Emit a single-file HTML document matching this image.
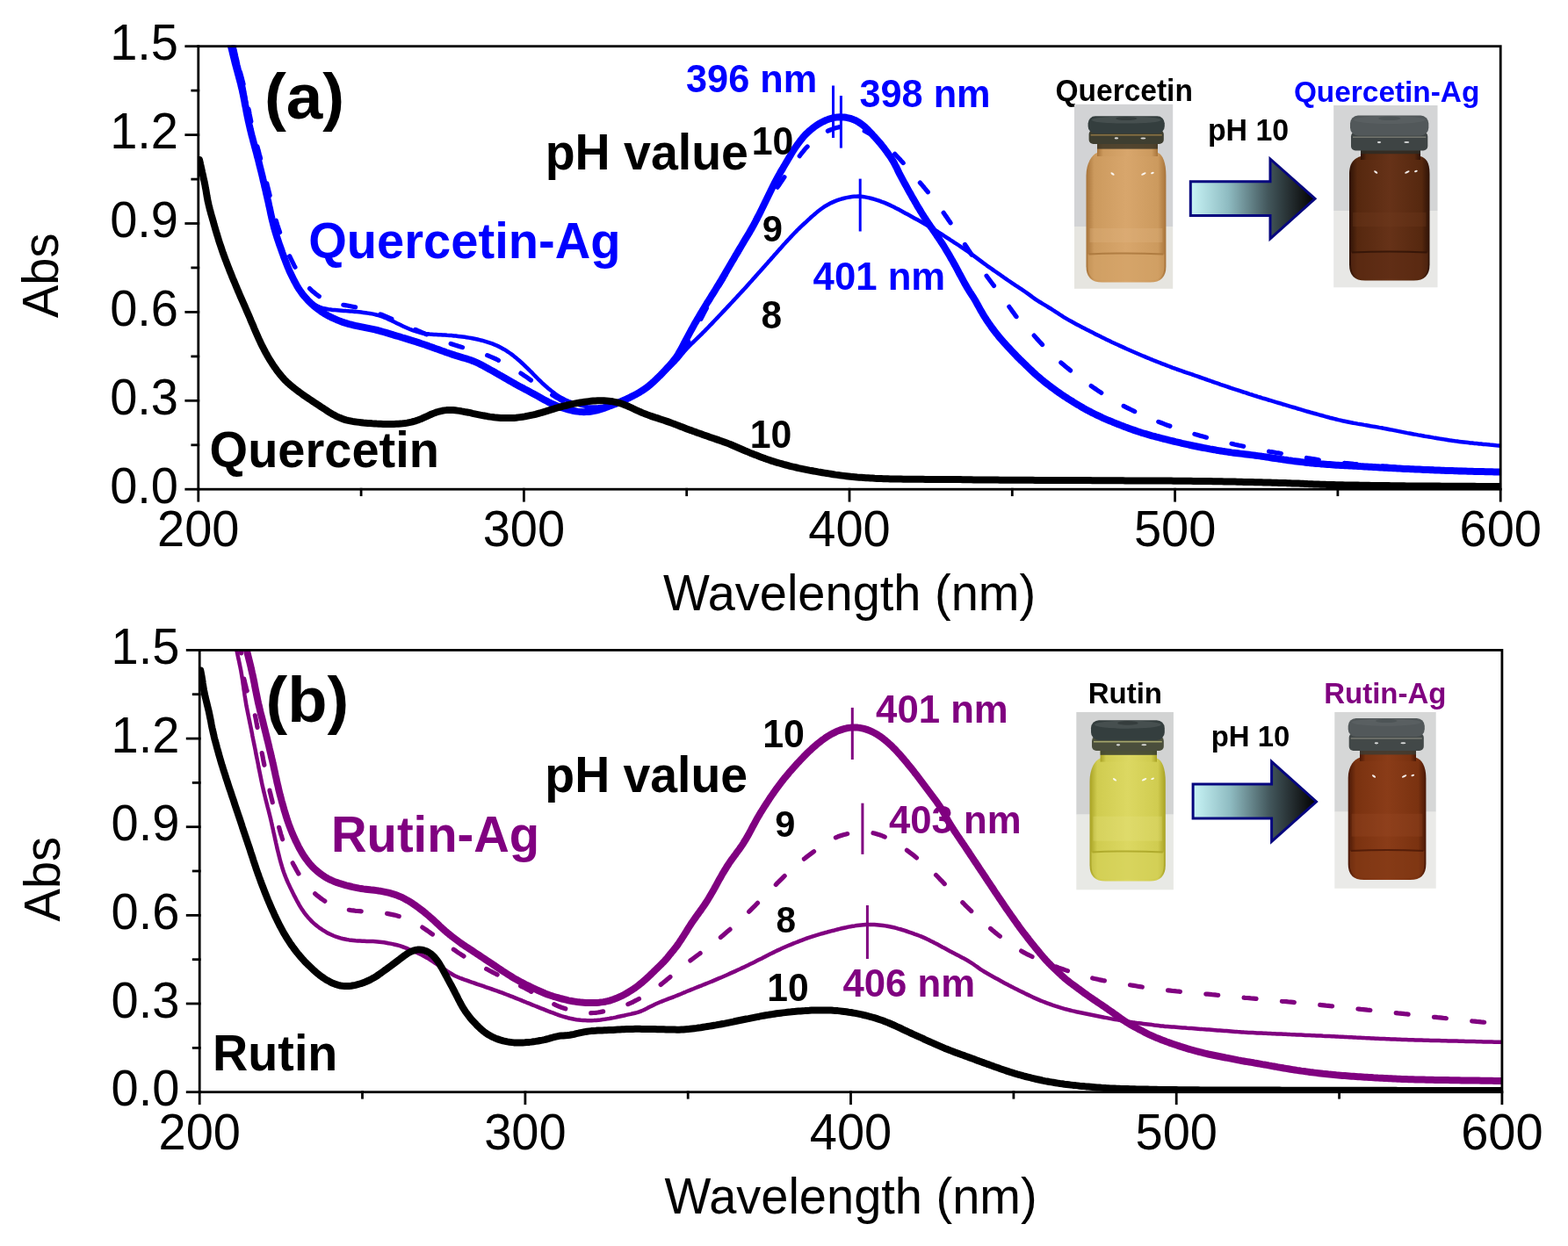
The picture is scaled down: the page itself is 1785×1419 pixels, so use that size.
<!DOCTYPE html>
<html><head><meta charset="utf-8"><title>UV-vis spectra</title>
<style>
html,body{margin:0;padding:0;background:#fff;}
body{width:1785px;height:1419px;overflow:hidden;}
svg{display:block;}
text{font-family:"Liberation Sans",Arial,sans-serif;}
.b{font-weight:bold;}
</style></head><body>
<svg width="1785" height="1419" viewBox="0 0 1785 1419">
<rect width="1785" height="1419" fill="#fff"/>
<defs>
<linearGradient id="arr" x1="0" y1="0" x2="1" y2="0"><stop offset="0" stop-color="#c8f4f6"/><stop offset="0.3" stop-color="#8fbcc2"/><stop offset="0.62" stop-color="#43575c"/><stop offset="0.85" stop-color="#1c2224"/><stop offset="1" stop-color="#000"/></linearGradient>
<linearGradient id="capside" x1="0" y1="0" x2="1" y2="0"><stop offset="0" stop-color="#2a3230"/><stop offset="0.5" stop-color="#1e2624"/><stop offset="1" stop-color="#161c1b"/></linearGradient>
<linearGradient id="capsideL" x1="0" y1="0" x2="1" y2="0"><stop offset="0" stop-color="#3c4242"/><stop offset="0.5" stop-color="#353b3b"/><stop offset="1" stop-color="#2c3232"/></linearGradient>
<linearGradient id="liqQ" x1="0" y1="0" x2="1" y2="0"><stop offset="0" stop-color="#a8743a"/><stop offset="0.1" stop-color="#cc9a5e"/><stop offset="0.5" stop-color="#d8a66c"/><stop offset="0.9" stop-color="#cc9a5e"/><stop offset="1" stop-color="#a8743a"/></linearGradient>
<linearGradient id="liqQA" x1="0" y1="0" x2="1" y2="0"><stop offset="0" stop-color="#2e1206"/><stop offset="0.1" stop-color="#56280f"/><stop offset="0.5" stop-color="#663218"/><stop offset="0.9" stop-color="#56280f"/><stop offset="1" stop-color="#2e1206"/></linearGradient>
<linearGradient id="liqR" x1="0" y1="0" x2="1" y2="0"><stop offset="0" stop-color="#a8a224"/><stop offset="0.1" stop-color="#d0cc50"/><stop offset="0.5" stop-color="#dcd862"/><stop offset="0.9" stop-color="#d0cc50"/><stop offset="1" stop-color="#a8a224"/></linearGradient>
<linearGradient id="liqRA" x1="0" y1="0" x2="1" y2="0"><stop offset="0" stop-color="#4a1806"/><stop offset="0.1" stop-color="#7a3210"/><stop offset="0.5" stop-color="#8a3c18"/><stop offset="0.9" stop-color="#7a3210"/><stop offset="1" stop-color="#4a1806"/></linearGradient>
</defs>
<clipPath id="ca"><rect x="225.8" y="51.7" width="1482.4" height="505.5"/></clipPath>
<g clip-path="url(#ca)" fill="none" stroke-linejoin="round">
<path stroke="#0000ff" stroke-width="4.5" stroke-linecap="round" d="M263.0,40.0 L263.7,42.4 L264.3,44.8 L265.0,47.2 L265.6,49.7 L266.3,52.1 L266.9,54.5 L267.4,56.9 L268.0,59.4 L268.6,61.8 L269.1,64.2 L269.7,66.7 L270.2,69.1 L270.8,71.6 L271.3,74.0 L271.9,76.4 L272.5,78.9 L273.1,81.3 L273.7,83.7 L274.3,86.2 L274.9,88.6 L275.5,91.0 L276.0,93.4 L276.6,95.9 L277.1,98.3 L277.6,100.8 L278.1,103.2 L278.5,105.7 L279.0,108.2 L279.4,110.6 L279.8,113.1 L280.2,115.6 L280.6,118.0 L281.0,120.5 L281.4,123.0 L281.9,125.4 L282.3,127.9 L282.7,130.4 L283.1,132.8 L283.5,135.3 L284.0,137.7 L284.5,140.2 L284.9,142.7 L285.4,145.1 L285.9,147.6 L286.5,150.0 L287.0,152.4 L287.6,154.9 L288.1,157.3 L288.7,159.8 L289.3,162.2 L289.8,164.6 L290.4,167.1 L291.0,169.5 L291.6,171.9 L292.2,174.3 L292.8,176.8 L293.4,179.2 L294.0,181.6 L294.5,184.1 L295.1,186.5 L295.7,188.9 L296.3,191.4 L296.9,193.8 L297.4,196.2 L298.0,198.7 L298.6,201.1 L299.2,203.5 L299.7,206.0 L300.3,208.4 L300.9,210.8 L301.5,213.3 L302.1,215.7 L302.6,218.1 L303.2,220.6 L303.8,223.0 L304.3,225.4 L304.9,227.9 L305.4,230.3 L306.0,232.8 L306.5,235.2 L307.0,237.7 L307.6,240.1 L308.1,242.6 L308.6,245.0 L309.1,247.4 L309.7,249.9 L310.3,252.3 L310.9,254.7 L311.5,257.2 L312.1,259.6 L312.8,262.0 L313.5,264.4 L314.3,266.8 L315.0,269.2 L315.8,271.5 L316.6,273.9 L317.4,276.3 L318.2,278.6 L319.0,281.0 L319.8,283.4 L320.7,285.7 L321.5,288.1 L322.4,290.4 L323.2,292.8 L324.1,295.1 L325.0,297.5 L325.9,299.8 L326.8,302.1 L327.8,304.4 L328.7,306.7 L329.7,309.0 L330.8,311.3 L331.8,313.6 L332.9,315.8 L334.0,318.0 L335.2,320.3 L336.4,322.5 L337.6,324.6 L338.9,326.8 L340.2,328.9 L341.6,330.9 L343.1,332.9 L344.7,334.9 L346.3,336.7 L348.0,338.6 L349.8,340.3 L351.6,342.0 L353.6,343.6 L355.5,345.0 L357.6,346.4 L359.7,347.7 L361.9,348.8 L364.2,349.8 L366.5,350.6 L368.9,351.3 L371.3,351.8 L373.8,352.3 L376.2,352.6 L378.7,352.9 L381.2,353.1 L383.7,353.3 L386.2,353.5 L388.7,353.7 L391.2,353.9 L393.7,354.1 L396.2,354.2 L398.7,354.4 L401.2,354.6 L403.7,354.9 L406.1,355.1 L408.6,355.3 L411.1,355.6 L413.6,355.9 L416.1,356.2 L418.6,356.6 L421.0,357.0 L423.5,357.4 L425.9,357.9 L428.3,358.5 L430.8,359.2 L433.1,359.9 L435.5,360.7 L437.8,361.6 L440.1,362.5 L442.4,363.6 L444.7,364.6 L446.9,365.7 L449.2,366.8 L451.4,367.9 L453.7,369.0 L455.9,370.1 L458.2,371.2 L460.4,372.2 L462.7,373.2 L465.0,374.2 L467.3,375.2 L469.7,376.1 L472.0,376.9 L474.4,377.7 L476.8,378.4 L479.2,379.0 L481.6,379.5 L484.1,380.0 L486.5,380.3 L489.0,380.6 L491.5,380.8 L494.0,381.0 L496.5,381.1 L499.0,381.2 L501.5,381.3 L504.0,381.5 L506.5,381.6 L509.0,381.8 L511.5,381.9 L514.0,382.1 L516.5,382.4 L518.9,382.6 L521.4,382.9 L523.9,383.2 L526.4,383.5 L528.9,383.8 L531.3,384.2 L533.8,384.6 L536.3,385.0 L538.7,385.5 L541.2,386.0 L543.6,386.5 L546.0,387.1 L548.5,387.7 L550.9,388.4 L553.3,389.1 L555.7,389.8 L558.0,390.6 L560.4,391.4 L562.7,392.4 L565.0,393.3 L567.3,394.4 L569.5,395.5 L571.7,396.7 L573.9,397.9 L576.0,399.2 L578.1,400.6 L580.2,402.0 L582.2,403.4 L584.2,404.9 L586.1,406.5 L588.1,408.1 L590.0,409.7 L591.8,411.3 L593.7,413.0 L595.5,414.7 L597.3,416.4 L599.1,418.2 L600.9,419.9 L602.7,421.7 L604.5,423.4 L606.3,425.2 L608.0,427.0 L609.8,428.8 L611.5,430.5 L613.3,432.3 L615.1,434.0 L616.9,435.8 L618.7,437.5 L620.6,439.2 L622.4,440.8 L624.3,442.5 L626.3,444.1 L628.2,445.6 L630.2,447.1 L632.2,448.6 L634.3,450.0 L636.4,451.4 L638.5,452.6 L640.7,453.8 L642.9,455.0 L645.2,456.0 L647.5,457.0 L649.8,457.9 L652.1,458.8 L654.5,459.6 L656.9,460.4 L659.2,461.1 L661.6,461.8 L664.1,462.4 L666.5,462.9 L669.0,463.3 L671.4,463.5 L673.9,463.6 L676.4,463.6 L678.9,463.5 L681.4,463.3 L683.8,463.0 L686.3,462.6 L688.7,462.1 L691.2,461.6 L693.6,460.9 L696.0,460.3 L698.4,459.6 L700.8,458.8 L703.1,458.0 L705.5,457.1 L707.8,456.2 L710.1,455.3 L712.4,454.3 L714.7,453.3 L717.0,452.2 L719.2,451.2 L721.5,450.0 L723.7,448.9 L725.9,447.7 L728.0,446.5 L730.2,445.2 L732.3,443.9 L734.4,442.5 L736.4,441.0 L738.4,439.5 L740.4,438.0 L742.3,436.4 L744.2,434.7 L746.1,433.1 L747.9,431.4 L749.8,429.8 L751.7,428.1 L753.5,426.4 L755.4,424.8 L757.3,423.1 L759.1,421.5 L761.0,419.8 L762.8,418.1 L764.6,416.4 L766.4,414.6 L768.2,412.9 L769.9,411.0 L771.6,409.2 L773.2,407.3 L774.8,405.3 L776.4,403.4 L777.9,401.5 L779.6,399.6 L781.2,397.7 L782.9,395.9 L784.6,394.1 L786.4,392.3 L788.2,390.6 L790.0,388.8 L791.8,387.1 L793.6,385.4 L795.4,383.6 L797.2,381.9 L799.0,380.1 L800.7,378.3 L802.5,376.6 L804.2,374.8 L806.0,373.0 L807.7,371.2 L809.5,369.4 L811.2,367.6 L812.9,365.8 L814.6,364.0 L816.4,362.2 L818.1,360.3 L819.8,358.5 L821.5,356.7 L823.2,354.9 L824.9,353.1 L826.7,351.2 L828.4,349.4 L830.1,347.6 L831.8,345.8 L833.5,344.0 L835.2,342.1 L836.9,340.3 L838.6,338.5 L840.3,336.6 L842.0,334.8 L843.7,332.9 L845.4,331.1 L847.1,329.3 L848.8,327.4 L850.5,325.5 L852.1,323.7 L853.8,321.8 L855.5,320.0 L857.1,318.1 L858.8,316.2 L860.5,314.4 L862.1,312.5 L863.8,310.6 L865.5,308.8 L867.1,306.9 L868.8,305.0 L870.4,303.2 L872.1,301.3 L873.8,299.4 L875.4,297.5 L877.1,295.7 L878.7,293.8 L880.4,291.9 L882.0,290.0 L883.7,288.2 L885.4,286.3 L887.0,284.4 L888.7,282.6 L890.3,280.7 L892.0,278.8 L893.7,277.0 L895.4,275.1 L897.1,273.3 L898.8,271.5 L900.5,269.6 L902.2,267.8 L903.9,266.0 L905.7,264.2 L907.4,262.4 L909.2,260.7 L911.0,258.9 L912.8,257.2 L914.6,255.5 L916.5,253.8 L918.3,252.1 L920.1,250.4 L922.0,248.7 L923.8,247.0 L925.7,245.4 L927.6,243.7 L929.5,242.1 L931.4,240.5 L933.4,239.0 L935.4,237.5 L937.4,236.1 L939.5,234.7 L941.7,233.5 L943.9,232.3 L946.1,231.1 L948.3,230.1 L950.6,229.1 L953.0,228.2 L955.3,227.4 L957.7,226.7 L960.1,226.0 L962.5,225.4 L965.0,224.9 L967.4,224.4 L969.9,224.1 L972.4,223.8 L974.8,223.7 L977.3,223.6 L979.8,223.8 L982.2,224.0 L984.7,224.4 L987.1,224.9 L989.6,225.4 L992.0,226.0 L994.4,226.7 L996.8,227.4 L999.2,228.1 L1001.6,228.9 L1003.9,229.8 L1006.3,230.6 L1008.6,231.6 L1010.9,232.6 L1013.1,233.6 L1015.4,234.7 L1017.6,235.8 L1019.8,237.0 L1022.1,238.1 L1024.3,239.3 L1026.5,240.5 L1028.7,241.7 L1030.9,242.9 L1033.1,244.1 L1035.3,245.3 L1037.4,246.5 L1039.6,247.7 L1041.8,248.9 L1044.0,250.1 L1046.2,251.3 L1048.4,252.5 L1050.6,253.8 L1052.7,255.0 L1054.9,256.2 L1057.1,257.5 L1059.2,258.8 L1061.3,260.1 L1063.5,261.4 L1065.6,262.7 L1067.7,264.0 L1069.8,265.4 L1071.9,266.7 L1074.0,268.1 L1076.1,269.5 L1078.2,270.8 L1080.3,272.2 L1082.4,273.6 L1084.5,274.9 L1086.6,276.3 L1088.7,277.6 L1090.8,279.0 L1092.9,280.4 L1095.0,281.8 L1097.0,283.2 L1099.1,284.6 L1101.1,286.0 L1103.2,287.5 L1105.2,288.9 L1107.2,290.4 L1109.3,291.9 L1111.3,293.4 L1113.3,294.9 L1115.3,296.4 L1117.3,297.9 L1119.3,299.4 L1121.3,300.8 L1123.3,302.3 L1125.4,303.8 L1127.4,305.2 L1129.5,306.6 L1131.5,308.1 L1133.6,309.5 L1135.6,310.9 L1137.7,312.3 L1139.7,313.8 L1141.8,315.2 L1143.8,316.7 L1145.9,318.1 L1147.9,319.5 L1150.0,320.9 L1152.1,322.3 L1154.1,323.7 L1156.2,325.1 L1158.3,326.4 L1160.4,327.8 L1162.5,329.2 L1164.6,330.6 L1166.6,332.0 L1168.6,333.4 L1170.7,334.9 L1172.7,336.4 L1174.7,337.9 L1176.7,339.3 L1178.8,340.8 L1180.8,342.2 L1182.9,343.5 L1185.1,344.8 L1187.2,346.1 L1189.4,347.4 L1191.5,348.7 L1193.6,350.0 L1195.8,351.3 L1197.9,352.6 L1200.0,354.0 L1202.1,355.3 L1204.2,356.7 L1206.3,358.1 L1208.4,359.4 L1210.5,360.8 L1212.6,362.1 L1214.8,363.4 L1216.9,364.6 L1219.1,365.8 L1221.3,367.0 L1223.5,368.2 L1225.7,369.4 L1227.9,370.6 L1230.1,371.7 L1232.4,372.9 L1234.6,374.0 L1236.8,375.2 L1239.0,376.3 L1241.3,377.5 L1243.5,378.6 L1245.7,379.7 L1247.9,380.9 L1250.2,382.0 L1252.4,383.1 L1254.6,384.2 L1256.9,385.3 L1259.1,386.4 L1261.4,387.5 L1263.6,388.6 L1265.9,389.7 L1268.2,390.7 L1270.4,391.8 L1272.7,392.8 L1275.0,393.9 L1277.3,394.9 L1279.5,395.9 L1281.8,397.0 L1284.1,398.0 L1286.4,399.0 L1288.7,400.0 L1291.0,401.0 L1293.3,402.0 L1295.6,403.0 L1297.9,404.0 L1300.2,405.0 L1302.5,405.9 L1304.8,406.9 L1307.1,407.8 L1309.4,408.8 L1311.7,409.7 L1314.0,410.7 L1316.4,411.6 L1318.7,412.5 L1321.0,413.4 L1323.3,414.3 L1325.7,415.2 L1328.0,416.1 L1330.4,417.0 L1332.7,417.9 L1335.0,418.8 L1337.4,419.6 L1339.7,420.5 L1342.1,421.3 L1344.5,422.1 L1346.8,423.0 L1349.2,423.8 L1351.5,424.6 L1353.9,425.4 L1356.3,426.2 L1358.6,427.0 L1361.0,427.9 L1363.4,428.7 L1365.7,429.5 L1368.1,430.3 L1370.4,431.2 L1372.8,432.0 L1375.2,432.8 L1377.5,433.6 L1379.9,434.5 L1382.2,435.3 L1384.6,436.1 L1387.0,436.9 L1389.3,437.8 L1391.7,438.6 L1394.1,439.4 L1396.4,440.2 L1398.8,441.0 L1401.2,441.8 L1403.5,442.6 L1405.9,443.4 L1408.3,444.1 L1410.7,444.9 L1413.0,445.7 L1415.4,446.5 L1417.8,447.2 L1420.2,448.0 L1422.6,448.8 L1425.0,449.5 L1427.3,450.3 L1429.7,451.0 L1432.1,451.8 L1434.5,452.5 L1436.9,453.3 L1439.3,454.0 L1441.7,454.7 L1444.1,455.5 L1446.5,456.2 L1448.9,456.9 L1451.3,457.6 L1453.7,458.3 L1456.0,459.0 L1458.4,459.7 L1460.8,460.5 L1463.2,461.2 L1465.6,461.9 L1468.0,462.6 L1470.4,463.3 L1472.8,464.0 L1475.2,464.7 L1477.6,465.5 L1480.0,466.2 L1482.4,466.9 L1484.8,467.6 L1487.2,468.3 L1489.6,469.0 L1492.0,469.7 L1494.4,470.3 L1496.8,471.0 L1499.3,471.7 L1501.7,472.4 L1504.1,473.0 L1506.5,473.7 L1508.9,474.4 L1511.3,475.0 L1513.7,475.7 L1516.1,476.3 L1518.6,476.9 L1521.0,477.5 L1523.4,478.1 L1525.9,478.6 L1528.3,479.2 L1530.8,479.7 L1533.2,480.2 L1535.6,480.7 L1538.1,481.2 L1540.6,481.7 L1543.0,482.1 L1545.5,482.6 L1547.9,483.0 L1550.4,483.4 L1552.9,483.9 L1555.3,484.3 L1557.8,484.7 L1560.3,485.2 L1562.7,485.6 L1565.2,486.0 L1567.7,486.4 L1570.1,486.9 L1572.6,487.3 L1575.0,487.8 L1577.5,488.2 L1580.0,488.7 L1582.4,489.2 L1584.9,489.6 L1587.3,490.1 L1589.8,490.6 L1592.2,491.1 L1594.7,491.6 L1597.1,492.1 L1599.6,492.6 L1602.0,493.1 L1604.5,493.5 L1606.9,494.0 L1609.4,494.5 L1611.9,494.9 L1614.3,495.4 L1616.8,495.8 L1619.3,496.2 L1621.7,496.7 L1624.2,497.1 L1626.6,497.5 L1629.1,497.9 L1631.6,498.4 L1634.0,498.8 L1636.5,499.2 L1639.0,499.6 L1641.4,500.0 L1643.9,500.4 L1646.4,500.8 L1648.9,501.2 L1651.3,501.6 L1653.8,501.9 L1656.3,502.3 L1658.8,502.6 L1661.2,502.9 L1663.7,503.2 L1666.2,503.5 L1668.7,503.8 L1671.2,504.1 L1673.7,504.4 L1676.1,504.6 L1678.6,504.9 L1681.1,505.1 L1683.6,505.4 L1686.1,505.6 L1688.6,505.9 L1691.1,506.1 L1693.6,506.3 L1696.1,506.6 L1698.6,506.8 L1701.0,507.0 L1703.5,507.3 L1706.0,507.5 L1708.5,507.8 L1711.0,508.0"/>
<path stroke="#0000ff" stroke-width="5.2" stroke-dasharray="14 29.5" stroke-linecap="round" d="M262.5,40.0 L263.2,42.4 L263.8,44.8 L264.5,47.2 L265.1,49.7 L265.8,52.1 L266.4,54.5 L267.0,56.9 L267.6,59.4 L268.2,61.8 L268.8,64.2 L269.4,66.6 L270.0,69.1 L270.6,71.5 L271.3,73.9 L271.9,76.4 L272.5,78.8 L273.2,81.2 L273.8,83.6 L274.5,86.0 L275.2,88.4 L275.8,90.8 L276.4,93.3 L277.1,95.7 L277.7,98.1 L278.2,100.6 L278.8,103.0 L279.3,105.4 L279.8,107.9 L280.3,110.3 L280.8,112.8 L281.3,115.3 L281.8,117.7 L282.2,120.2 L282.7,122.6 L283.2,125.1 L283.7,127.5 L284.1,130.0 L284.6,132.5 L285.1,134.9 L285.6,137.4 L286.2,139.8 L286.7,142.2 L287.3,144.7 L287.9,147.1 L288.4,149.6 L289.0,152.0 L289.6,154.4 L290.3,156.8 L290.9,159.3 L291.5,161.7 L292.2,164.1 L292.8,166.5 L293.5,168.9 L294.1,171.3 L294.8,173.8 L295.4,176.2 L296.1,178.6 L296.7,181.0 L297.3,183.4 L298.0,185.9 L298.6,188.3 L299.2,190.7 L299.8,193.1 L300.4,195.6 L301.0,198.0 L301.6,200.4 L302.3,202.9 L302.9,205.3 L303.5,207.7 L304.1,210.1 L304.7,212.6 L305.3,215.0 L305.9,217.4 L306.5,219.9 L307.1,222.3 L307.7,224.7 L308.3,227.2 L308.8,229.6 L309.4,232.0 L310.0,234.5 L310.6,236.9 L311.1,239.3 L311.7,241.8 L312.3,244.2 L313.0,246.6 L313.6,249.0 L314.3,251.4 L315.1,253.8 L315.8,256.2 L316.6,258.6 L317.3,261.0 L318.2,263.3 L319.0,265.7 L319.8,268.0 L320.7,270.4 L321.6,272.7 L322.5,275.1 L323.4,277.4 L324.4,279.7 L325.4,282.0 L326.4,284.3 L327.4,286.6 L328.4,288.9 L329.4,291.2 L330.5,293.4 L331.6,295.7 L332.7,297.9 L333.8,300.2 L334.9,302.4 L336.1,304.6 L337.3,306.8 L338.5,309.0 L339.8,311.1 L341.1,313.3 L342.4,315.4 L343.7,317.5 L345.1,319.6 L346.6,321.6 L348.1,323.6 L349.7,325.5 L351.4,327.4 L353.1,329.2 L354.9,330.9 L356.8,332.5 L358.7,334.1 L360.7,335.7 L362.7,337.1 L364.8,338.5 L366.9,339.7 L369.1,340.9 L371.3,342.0 L373.6,343.0 L376.0,343.8 L378.3,344.6 L380.7,345.3 L383.1,345.8 L385.6,346.3 L388.0,346.8 L390.5,347.2 L393.0,347.6 L395.4,348.0 L397.9,348.5 L400.3,349.0 L402.8,349.5 L405.2,350.0 L407.7,350.5 L410.1,351.1 L412.6,351.7 L415.0,352.3 L417.4,353.0 L419.8,353.6 L422.2,354.3 L424.6,355.0 L427.0,355.8 L429.4,356.6 L431.7,357.4 L434.1,358.3 L436.4,359.2 L438.7,360.1 L441.0,361.1 L443.3,362.1 L445.6,363.1 L447.9,364.1 L450.2,365.1 L452.5,366.2 L454.7,367.2 L457.0,368.3 L459.3,369.3 L461.6,370.4 L463.8,371.4 L466.1,372.4 L468.4,373.5 L470.7,374.5 L473.0,375.5 L475.3,376.5 L477.6,377.4 L479.9,378.4 L482.2,379.3 L484.5,380.3 L486.8,381.2 L489.2,382.2 L491.5,383.1 L493.8,384.0 L496.1,385.0 L498.5,385.9 L500.8,386.8 L503.1,387.7 L505.4,388.6 L507.8,389.5 L510.1,390.4 L512.5,391.2 L514.9,392.0 L517.2,392.8 L519.6,393.5 L522.0,394.3 L524.4,395.0 L526.8,395.7 L529.2,396.4 L531.6,397.1 L534.0,397.8 L536.4,398.5 L538.8,399.3 L541.2,400.0 L543.6,400.8 L546.0,401.5 L548.4,402.3 L550.7,403.1 L553.1,404.0 L555.4,404.9 L557.7,405.9 L560.0,406.8 L562.3,407.8 L564.6,408.9 L566.8,410.0 L569.1,411.1 L571.3,412.2 L573.5,413.4 L575.7,414.6 L577.9,415.8 L580.0,417.1 L582.2,418.4 L584.3,419.7 L586.5,421.0 L588.6,422.3 L590.7,423.7 L592.8,425.0 L594.9,426.4 L596.9,427.8 L599.0,429.2 L601.1,430.6 L603.1,432.1 L605.2,433.5 L607.2,435.0 L609.2,436.4 L611.3,437.9 L613.3,439.3 L615.4,440.8 L617.4,442.2 L619.4,443.7 L621.5,445.1 L623.6,446.5 L625.6,447.9 L627.7,449.2 L629.9,450.6 L632.0,451.9 L634.2,453.1 L636.3,454.4 L638.5,455.7 L640.7,456.9 L642.8,458.1 L645.0,459.3 L647.2,460.5 L649.5,461.6 L651.7,462.7 L654.0,463.7 L656.3,464.5 L658.7,465.3 L661.1,466.0 L663.5,466.5 L666.0,466.8 L668.4,467.0 L670.9,467.1 L673.4,467.0 L675.9,466.8 L678.4,466.5 L680.8,466.1 L683.2,465.6 L685.7,465.0 L688.1,464.3 L690.4,463.6 L692.8,462.8 L695.2,461.9 L697.5,461.0 L699.8,460.1 L702.2,459.2 L704.5,458.3 L706.8,457.4 L709.1,456.4 L711.4,455.3 L713.6,454.3 L715.9,453.2 L718.1,452.1 L720.4,450.9 L722.6,449.8 L724.8,448.6 L727.0,447.4 L729.1,446.1 L731.2,444.8 L733.3,443.4 L735.3,442.0 L737.3,440.5 L739.3,438.9 L741.2,437.3 L743.1,435.6 L744.9,433.9 L746.7,432.2 L748.5,430.5 L750.3,428.7 L752.1,426.9 L753.8,425.1 L755.5,423.3 L757.3,421.5 L759.0,419.7 L760.6,417.8 L762.3,416.0 L764.0,414.1 L765.6,412.2 L767.3,410.3 L768.9,408.4 L770.5,406.5 L772.2,404.6 L773.8,402.7 L775.4,400.8 L777.0,398.9 L778.5,396.9 L780.0,394.9 L781.5,392.9 L782.9,390.8 L784.2,388.7 L785.5,386.6 L786.8,384.4 L788.0,382.2 L789.2,380.0 L790.4,377.8 L791.5,375.6 L792.7,373.4 L793.8,371.2 L795.0,368.9 L796.1,366.7 L797.3,364.5 L798.4,362.3 L799.6,360.0 L800.7,357.8 L801.9,355.6 L803.0,353.4 L804.2,351.2 L805.4,349.0 L806.6,346.7 L807.8,344.6 L809.0,342.4 L810.2,340.2 L811.5,338.0 L812.7,335.9 L814.0,333.7 L815.3,331.6 L816.6,329.4 L817.9,327.3 L819.1,325.1 L820.4,323.0 L821.7,320.8 L823.0,318.6 L824.2,316.5 L825.5,314.3 L826.8,312.2 L828.0,310.0 L829.3,307.9 L830.6,305.7 L831.8,303.5 L833.1,301.4 L834.3,299.2 L835.6,297.0 L836.8,294.8 L838.0,292.7 L839.2,290.5 L840.4,288.3 L841.6,286.1 L842.8,283.9 L843.9,281.6 L845.0,279.4 L846.1,277.1 L847.2,274.9 L848.3,272.6 L849.3,270.3 L850.4,268.1 L851.5,265.8 L852.6,263.6 L853.7,261.3 L854.8,259.1 L856.0,256.9 L857.2,254.7 L858.3,252.5 L859.6,250.3 L860.8,248.1 L862.0,245.9 L863.3,243.8 L864.6,241.6 L865.9,239.5 L867.3,237.4 L868.6,235.3 L870.1,233.3 L871.5,231.2 L873.0,229.2 L874.6,227.3 L876.1,225.3 L877.6,223.3 L879.1,221.3 L880.6,219.3 L882.1,217.3 L883.6,215.3 L885.0,213.2 L886.5,211.2 L887.9,209.1 L889.3,207.0 L890.7,205.0 L892.1,202.9 L893.5,200.8 L894.9,198.8 L896.4,196.7 L897.8,194.7 L899.2,192.6 L900.7,190.6 L902.1,188.5 L903.6,186.5 L905.1,184.5 L906.6,182.5 L908.0,180.5 L909.6,178.5 L911.1,176.5 L912.6,174.5 L914.2,172.6 L915.8,170.6 L917.4,168.7 L919.1,166.9 L920.8,165.0 L922.5,163.3 L924.3,161.5 L926.1,159.8 L928.0,158.2 L930.0,156.6 L932.0,155.1 L934.0,153.7 L936.1,152.4 L938.3,151.2 L940.5,150.1 L942.8,149.0 L945.1,148.0 L947.4,147.1 L949.7,146.2 L952.1,145.5 L954.5,144.9 L957.0,144.4 L959.4,144.1 L961.9,143.9 L964.3,143.9 L966.8,144.0 L969.2,144.4 L971.7,144.9 L974.1,145.5 L976.4,146.2 L978.8,147.1 L981.1,148.0 L983.4,148.9 L985.7,150.0 L987.9,151.1 L990.1,152.3 L992.2,153.6 L994.4,154.9 L996.4,156.3 L998.5,157.7 L1000.5,159.2 L1002.5,160.7 L1004.5,162.2 L1006.4,163.8 L1008.3,165.4 L1010.2,167.1 L1012.1,168.8 L1013.9,170.5 L1015.7,172.2 L1017.4,174.0 L1019.1,175.8 L1020.9,177.7 L1022.6,179.5 L1024.3,181.3 L1026.0,183.2 L1027.7,185.0 L1029.3,186.9 L1031.0,188.7 L1032.7,190.6 L1034.3,192.5 L1035.9,194.4 L1037.6,196.3 L1039.2,198.2 L1040.7,200.1 L1042.3,202.0 L1043.9,204.0 L1045.5,205.9 L1047.1,207.8 L1048.8,209.7 L1050.4,211.6 L1052.0,213.5 L1053.6,215.5 L1055.2,217.4 L1056.8,219.3 L1058.4,221.3 L1059.9,223.2 L1061.5,225.2 L1063.0,227.1 L1064.6,229.1 L1066.1,231.1 L1067.6,233.1 L1069.0,235.2 L1070.5,237.2 L1071.9,239.2 L1073.4,241.3 L1074.8,243.3 L1076.2,245.4 L1077.7,247.4 L1079.1,249.5 L1080.5,251.6 L1081.9,253.6 L1083.3,255.7 L1084.7,257.8 L1086.1,259.9 L1087.5,261.9 L1088.9,264.0 L1090.3,266.1 L1091.7,268.2 L1093.1,270.2 L1094.5,272.3 L1095.9,274.4 L1097.2,276.5 L1098.6,278.6 L1100.0,280.7 L1101.3,282.8 L1102.7,284.9 L1104.1,287.0 L1105.5,289.1 L1106.8,291.2 L1108.2,293.2 L1109.6,295.3 L1111.0,297.4 L1112.4,299.5 L1113.9,301.5 L1115.3,303.6 L1116.8,305.6 L1118.2,307.6 L1119.7,309.7 L1121.2,311.7 L1122.7,313.7 L1124.2,315.7 L1125.7,317.7 L1127.2,319.7 L1128.7,321.7 L1130.2,323.7 L1131.7,325.7 L1133.2,327.7 L1134.7,329.7 L1136.2,331.7 L1137.7,333.7 L1139.1,335.7 L1140.6,337.8 L1142.1,339.8 L1143.5,341.8 L1145.0,343.9 L1146.4,345.9 L1147.9,348.0 L1149.3,350.0 L1150.8,352.0 L1152.2,354.1 L1153.7,356.1 L1155.1,358.1 L1156.6,360.1 L1158.2,362.1 L1159.8,363.9 L1161.5,365.7 L1163.2,367.4 L1164.9,369.1 L1166.7,370.9 L1168.5,372.6 L1170.2,374.4 L1171.9,376.3 L1173.6,378.1 L1175.2,380.0 L1176.9,381.8 L1178.6,383.7 L1180.2,385.6 L1181.9,387.4 L1183.6,389.3 L1185.3,391.1 L1187.0,393.0 L1188.7,394.8 L1190.4,396.6 L1192.2,398.4 L1193.9,400.2 L1195.7,401.9 L1197.5,403.7 L1199.3,405.4 L1201.2,407.1 L1203.0,408.7 L1204.9,410.4 L1206.8,412.1 L1208.7,413.7 L1210.6,415.3 L1212.5,416.9 L1214.4,418.5 L1216.4,420.1 L1218.3,421.7 L1220.3,423.2 L1222.2,424.8 L1224.2,426.3 L1226.2,427.8 L1228.2,429.3 L1230.2,430.8 L1232.2,432.3 L1234.2,433.8 L1236.2,435.3 L1238.3,436.8 L1240.3,438.2 L1242.4,439.7 L1244.4,441.1 L1246.5,442.5 L1248.5,443.9 L1250.6,445.3 L1252.7,446.7 L1254.8,448.1 L1256.9,449.4 L1259.0,450.8 L1261.1,452.1 L1263.3,453.4 L1265.4,454.7 L1267.6,455.9 L1269.7,457.2 L1271.9,458.4 L1274.1,459.6 L1276.3,460.8 L1278.5,462.0 L1280.7,463.2 L1283.0,464.3 L1285.2,465.4 L1287.4,466.5 L1289.7,467.6 L1292.0,468.7 L1294.2,469.8 L1296.5,470.8 L1298.8,471.9 L1301.1,472.9 L1303.3,473.9 L1305.6,474.9 L1307.9,475.9 L1310.2,476.9 L1312.6,477.8 L1314.9,478.8 L1317.2,479.7 L1319.5,480.6 L1321.9,481.5 L1324.2,482.4 L1326.5,483.3 L1328.9,484.2 L1331.2,485.0 L1333.6,485.9 L1336.0,486.7 L1338.3,487.5 L1340.7,488.3 L1343.1,489.1 L1345.4,489.9 L1347.8,490.7 L1350.2,491.4 L1352.6,492.2 L1355.0,492.9 L1357.4,493.6 L1359.8,494.3 L1362.2,495.1 L1364.6,495.7 L1367.0,496.4 L1369.4,497.1 L1371.8,497.7 L1374.2,498.4 L1376.7,499.0 L1379.1,499.7 L1381.5,500.3 L1383.9,500.9 L1386.4,501.5 L1388.8,502.1 L1391.2,502.7 L1393.6,503.3 L1396.1,503.9 L1398.5,504.5 L1400.9,505.1 L1403.4,505.6 L1405.8,506.2 L1408.3,506.7 L1410.7,507.3 L1413.2,507.8 L1415.6,508.3 L1418.1,508.8 L1420.5,509.4 L1423.0,509.9 L1425.4,510.4 L1427.9,510.9 L1430.3,511.4 L1432.8,511.8 L1435.2,512.3 L1437.7,512.8 L1440.1,513.3 L1442.6,513.7 L1445.1,514.2 L1447.5,514.6 L1450.0,515.0 L1452.5,515.5 L1454.9,515.9 L1457.4,516.3 L1459.9,516.7 L1462.3,517.1 L1464.8,517.5 L1467.3,518.0 L1469.7,518.4 L1472.1,518.8 L1474.5,519.2 L1476.9,519.6 L1479.3,520.0 L1481.7,520.5 L1484.1,520.9 L1486.5,521.3 L1488.9,521.7 L1491.4,522.1 L1493.9,522.5 L1496.3,522.9 L1498.8,523.3 L1501.3,523.7 L1503.7,524.1 L1506.2,524.4 L1508.7,524.8 L1511.2,525.2 L1513.7,525.5 L1516.1,525.8 L1518.6,526.1 L1521.1,526.4 L1523.6,526.6 L1526.1,526.9 L1528.6,527.1 L1531.1,527.4 L1533.6,527.6 L1536.1,527.8 L1538.6,528.0 L1541.0,528.3 L1543.5,528.5 L1546.0,528.7 L1548.5,528.9 L1551.0,529.1 L1553.5,529.3 L1556.0,529.5 L1558.5,529.7 L1561.0,529.9 L1563.5,530.1 L1566.0,530.3 L1568.5,530.5 L1571.0,530.7 L1573.5,530.9 L1576.0,531.0 L1578.5,531.2 L1581.0,531.4 L1583.5,531.6 L1586.0,531.7 L1588.5,531.9 L1591.0,532.1 L1593.5,532.2 L1596.0,532.4 L1598.5,532.5 L1601.0,532.7 L1603.5,532.8 L1605.9,533.0 L1608.4,533.1 L1610.9,533.2 L1613.4,533.4 L1615.9,533.5 L1618.4,533.6 L1620.9,533.7 L1623.4,533.9 L1625.9,534.0 L1628.4,534.1 L1630.9,534.2 L1633.5,534.3 L1636.0,534.4 L1638.5,534.5 L1641.0,534.6 L1643.5,534.7 L1646.0,534.8 L1648.5,534.9 L1651.0,535.0 L1653.5,535.1 L1656.0,535.2 L1658.5,535.2 L1661.0,535.3 L1663.5,535.4 L1666.0,535.5 L1668.5,535.6 L1671.0,535.7 L1673.5,535.7 L1676.0,535.8 L1678.5,535.9 L1681.0,536.0 L1683.5,536.0 L1686.0,536.1 L1688.5,536.2 L1691.0,536.2 L1693.5,536.3 L1696.0,536.4 L1698.5,536.5 L1701.0,536.5 L1703.5,536.6 L1706.0,536.7 L1708.5,536.7 L1711.0,536.8"/>
<path stroke="#0000ff" stroke-width="8.0" stroke-linecap="round" d="M259.5,40.0 L260.2,42.4 L260.8,44.8 L261.5,47.2 L262.1,49.6 L262.8,52.1 L263.4,54.5 L264.0,56.9 L264.6,59.3 L265.2,61.8 L265.8,64.2 L266.4,66.6 L267.0,69.0 L267.6,71.5 L268.2,73.9 L268.9,76.3 L269.5,78.7 L270.2,81.1 L270.8,83.6 L271.5,86.0 L272.1,88.4 L272.8,90.8 L273.4,93.2 L274.1,95.6 L274.6,98.1 L275.2,100.5 L275.8,102.9 L276.3,105.4 L276.8,107.8 L277.3,110.3 L277.8,112.7 L278.3,115.2 L278.7,117.6 L279.2,120.1 L279.7,122.5 L280.2,125.0 L280.6,127.5 L281.1,129.9 L281.6,132.4 L282.1,134.8 L282.6,137.3 L283.2,139.7 L283.7,142.1 L284.3,144.6 L284.8,147.0 L285.4,149.4 L286.0,151.9 L286.6,154.3 L287.3,156.7 L287.9,159.1 L288.5,161.6 L289.2,164.0 L289.8,166.4 L290.5,168.8 L291.1,171.2 L291.8,173.6 L292.4,176.0 L293.0,178.5 L293.7,180.9 L294.3,183.3 L294.9,185.7 L295.5,188.2 L296.1,190.6 L296.7,193.0 L297.3,195.4 L297.9,197.9 L298.5,200.3 L299.1,202.7 L299.6,205.2 L300.2,207.6 L300.8,210.0 L301.3,212.5 L301.9,214.9 L302.5,217.3 L303.0,219.8 L303.6,222.2 L304.2,224.7 L304.7,227.1 L305.3,229.5 L305.8,232.0 L306.3,234.4 L306.9,236.9 L307.4,239.3 L307.9,241.8 L308.4,244.2 L309.0,246.6 L309.5,249.1 L310.1,251.5 L310.7,253.9 L311.3,256.4 L311.9,258.8 L312.6,261.2 L313.3,263.6 L314.0,266.0 L314.8,268.4 L315.5,270.8 L316.3,273.1 L317.1,275.5 L317.9,277.9 L318.7,280.2 L319.6,282.6 L320.4,284.9 L321.2,287.3 L322.1,289.7 L322.9,292.0 L323.8,294.3 L324.7,296.7 L325.6,299.0 L326.5,301.3 L327.4,303.7 L328.4,306.0 L329.4,308.3 L330.4,310.5 L331.5,312.8 L332.6,315.1 L333.7,317.3 L334.8,319.5 L336.0,321.7 L337.2,323.9 L338.4,326.1 L339.7,328.2 L341.1,330.3 L342.5,332.3 L344.0,334.4 L345.5,336.3 L347.1,338.2 L348.8,340.1 L350.5,341.9 L352.2,343.7 L354.0,345.5 L355.9,347.1 L357.7,348.8 L359.7,350.3 L361.7,351.9 L363.7,353.3 L365.7,354.8 L367.8,356.2 L369.9,357.5 L372.1,358.7 L374.3,359.9 L376.5,361.1 L378.7,362.2 L381.0,363.2 L383.3,364.2 L385.6,365.1 L387.9,366.0 L390.3,366.9 L392.6,367.7 L395.0,368.4 L397.4,369.1 L399.8,369.7 L402.3,370.3 L404.7,370.9 L407.1,371.4 L409.6,371.9 L412.0,372.4 L414.5,372.9 L416.9,373.4 L419.4,373.9 L421.9,374.4 L424.3,374.9 L426.7,375.4 L429.2,376.0 L431.6,376.6 L434.0,377.3 L436.4,378.0 L438.8,378.7 L441.2,379.4 L443.6,380.1 L446.0,380.8 L448.4,381.6 L450.8,382.3 L453.2,383.0 L455.6,383.7 L458.0,384.5 L460.3,385.2 L462.7,385.9 L465.1,386.6 L467.5,387.4 L469.9,388.1 L472.3,388.8 L474.7,389.6 L477.1,390.4 L479.4,391.2 L481.8,392.0 L484.2,392.8 L486.5,393.6 L488.9,394.5 L491.2,395.3 L493.6,396.1 L495.9,397.0 L498.3,397.8 L500.7,398.6 L503.0,399.5 L505.4,400.3 L507.7,401.2 L510.1,402.0 L512.4,402.8 L514.8,403.6 L517.2,404.4 L519.6,405.2 L522.0,405.9 L524.4,406.6 L526.7,407.3 L529.1,408.0 L531.5,408.7 L533.9,409.5 L536.3,410.3 L538.6,411.2 L540.9,412.2 L543.2,413.2 L545.4,414.2 L547.7,415.4 L549.9,416.5 L552.1,417.7 L554.3,418.9 L556.5,420.2 L558.6,421.4 L560.8,422.6 L563.0,423.8 L565.2,425.1 L567.3,426.3 L569.5,427.6 L571.7,428.8 L573.8,430.0 L576.0,431.3 L578.2,432.5 L580.3,433.8 L582.5,435.0 L584.7,436.2 L586.9,437.5 L589.1,438.7 L591.3,439.9 L593.5,441.1 L595.7,442.2 L597.9,443.4 L600.1,444.6 L602.3,445.8 L604.5,447.0 L606.7,448.2 L608.9,449.3 L611.1,450.6 L613.3,451.8 L615.4,453.0 L617.6,454.2 L619.8,455.4 L622.0,456.6 L624.2,457.8 L626.4,458.9 L628.7,460.0 L631.0,461.0 L633.3,462.0 L635.6,462.8 L638.0,463.7 L640.3,464.5 L642.7,465.2 L645.1,465.9 L647.5,466.6 L649.9,467.2 L652.4,467.8 L654.8,468.2 L657.3,468.6 L659.7,468.9 L662.2,469.1 L664.7,469.2 L667.2,469.1 L669.7,469.0 L672.1,468.7 L674.6,468.3 L677.1,467.9 L679.5,467.4 L681.9,466.7 L684.3,466.0 L686.6,465.2 L689.0,464.4 L691.3,463.5 L693.7,462.6 L696.0,461.7 L698.3,460.8 L700.7,459.9 L703.0,459.0 L705.3,458.0 L707.6,457.0 L709.9,456.0 L712.2,455.0 L714.4,453.9 L716.7,452.8 L718.9,451.7 L721.1,450.6 L723.3,449.4 L725.5,448.2 L727.7,447.0 L729.8,445.7 L731.9,444.3 L734.0,442.9 L736.0,441.5 L738.0,440.0 L739.9,438.4 L741.8,436.8 L743.7,435.1 L745.5,433.4 L747.3,431.7 L749.1,429.9 L750.9,428.2 L752.6,426.4 L754.4,424.6 L756.1,422.8 L757.8,420.9 L759.5,419.1 L761.2,417.3 L762.9,415.4 L764.5,413.5 L766.1,411.6 L767.7,409.7 L769.2,407.7 L770.6,405.6 L771.9,403.6 L773.2,401.4 L774.4,399.3 L775.6,397.1 L776.8,394.9 L778.0,392.6 L779.1,390.4 L780.3,388.2 L781.5,386.0 L782.6,383.8 L783.8,381.6 L785.0,379.4 L786.2,377.2 L787.4,375.0 L788.6,372.8 L789.8,370.6 L791.0,368.4 L792.3,366.3 L793.5,364.1 L794.8,362.0 L796.1,359.8 L797.4,357.6 L798.6,355.5 L799.9,353.4 L801.2,351.2 L802.5,349.1 L803.8,347.0 L805.1,344.8 L806.5,342.7 L807.8,340.6 L809.1,338.5 L810.4,336.3 L811.8,334.2 L813.1,332.1 L814.4,330.0 L815.7,327.8 L817.0,325.7 L818.3,323.6 L819.6,321.4 L820.9,319.3 L822.2,317.1 L823.4,315.0 L824.7,312.8 L826.0,310.7 L827.2,308.5 L828.5,306.3 L829.7,304.2 L831.0,302.0 L832.3,299.9 L833.5,297.7 L834.8,295.6 L836.1,293.4 L837.3,291.2 L838.6,289.1 L839.9,286.9 L841.1,284.8 L842.4,282.6 L843.7,280.5 L845.0,278.3 L846.2,276.2 L847.5,274.0 L848.8,271.9 L850.1,269.7 L851.4,267.6 L852.7,265.5 L853.9,263.3 L855.2,261.1 L856.4,259.0 L857.6,256.8 L858.8,254.6 L860.0,252.4 L861.2,250.2 L862.3,247.9 L863.5,245.7 L864.6,243.5 L865.7,241.2 L866.8,239.0 L867.9,236.8 L869.0,234.5 L870.1,232.3 L871.2,230.0 L872.3,227.8 L873.4,225.5 L874.5,223.3 L875.6,221.0 L876.7,218.8 L877.8,216.5 L878.9,214.3 L880.0,212.0 L881.1,209.8 L882.2,207.6 L883.4,205.4 L884.6,203.2 L885.8,201.0 L887.0,198.8 L888.2,196.6 L889.5,194.4 L890.8,192.3 L892.0,190.1 L893.3,188.0 L894.6,185.8 L895.8,183.7 L897.1,181.5 L898.4,179.4 L899.7,177.2 L900.9,175.1 L902.2,172.9 L903.6,170.8 L904.9,168.7 L906.3,166.7 L907.8,164.6 L909.3,162.6 L910.8,160.6 L912.3,158.7 L913.9,156.7 L915.5,154.9 L917.2,153.0 L919.0,151.3 L920.8,149.6 L922.7,148.0 L924.7,146.4 L926.6,144.9 L928.6,143.4 L930.7,142.0 L932.8,140.7 L934.9,139.5 L937.2,138.4 L939.4,137.3 L941.7,136.4 L944.0,135.5 L946.3,134.8 L948.7,134.2 L951.0,133.7 L953.5,133.4 L955.9,133.3 L958.4,133.4 L960.9,133.5 L963.3,133.8 L965.7,134.3 L968.1,134.9 L970.5,135.7 L972.7,136.6 L975.0,137.7 L977.1,138.9 L979.2,140.3 L981.2,141.7 L983.1,143.3 L985.0,144.9 L986.8,146.6 L988.6,148.4 L990.3,150.2 L992.0,152.0 L993.7,153.9 L995.4,155.7 L997.1,157.6 L998.7,159.4 L1000.4,161.3 L1002.0,163.2 L1003.6,165.1 L1005.1,167.1 L1006.7,169.1 L1008.2,171.1 L1009.7,173.1 L1011.1,175.1 L1012.6,177.2 L1014.0,179.2 L1015.3,181.3 L1016.6,183.4 L1017.9,185.6 L1019.0,187.8 L1020.2,190.0 L1021.3,192.3 L1022.3,194.5 L1023.4,196.8 L1024.6,199.0 L1025.7,201.2 L1026.9,203.4 L1028.1,205.6 L1029.3,207.8 L1030.5,210.0 L1031.7,212.2 L1032.9,214.4 L1034.1,216.6 L1035.3,218.7 L1036.6,220.9 L1037.8,223.1 L1039.0,225.3 L1040.3,227.4 L1041.5,229.6 L1042.8,231.8 L1044.0,233.9 L1045.3,236.1 L1046.6,238.2 L1047.9,240.4 L1049.2,242.5 L1050.5,244.6 L1051.8,246.7 L1053.2,248.8 L1054.6,250.9 L1056.0,253.0 L1057.4,255.1 L1058.8,257.1 L1060.2,259.2 L1061.7,261.2 L1063.1,263.3 L1064.5,265.3 L1065.9,267.4 L1067.3,269.5 L1068.7,271.5 L1070.1,273.6 L1071.5,275.7 L1072.9,277.8 L1074.2,279.9 L1075.5,282.0 L1076.8,284.2 L1078.1,286.3 L1079.4,288.5 L1080.7,290.6 L1081.9,292.8 L1083.1,295.0 L1084.4,297.1 L1085.6,299.3 L1086.8,301.5 L1088.0,303.7 L1089.2,305.9 L1090.4,308.1 L1091.5,310.3 L1092.7,312.5 L1093.9,314.7 L1095.1,316.9 L1096.3,319.1 L1097.5,321.3 L1098.7,323.5 L1099.9,325.7 L1101.2,327.8 L1102.5,330.0 L1103.8,332.1 L1105.2,334.2 L1106.5,336.3 L1107.9,338.4 L1109.2,340.5 L1110.5,342.6 L1111.7,344.8 L1112.9,347.0 L1114.1,349.2 L1115.3,351.4 L1116.5,353.6 L1117.8,355.7 L1119.0,357.9 L1120.3,360.0 L1121.7,362.1 L1123.0,364.2 L1124.4,366.3 L1125.8,368.4 L1127.3,370.4 L1128.7,372.5 L1130.2,374.5 L1131.7,376.5 L1133.2,378.4 L1134.8,380.4 L1136.3,382.4 L1137.9,384.3 L1139.5,386.2 L1141.2,388.1 L1142.8,390.0 L1144.5,391.8 L1146.2,393.7 L1147.9,395.5 L1149.6,397.3 L1151.3,399.2 L1153.0,401.0 L1154.7,402.8 L1156.4,404.6 L1158.1,406.4 L1159.9,408.2 L1161.7,410.0 L1163.5,411.7 L1165.3,413.4 L1167.1,415.1 L1168.9,416.9 L1170.7,418.6 L1172.5,420.3 L1174.3,422.0 L1176.2,423.8 L1178.0,425.5 L1179.8,427.2 L1181.7,428.8 L1183.6,430.4 L1185.5,432.0 L1187.5,433.6 L1189.4,435.2 L1191.4,436.7 L1193.4,438.2 L1195.3,439.8 L1197.3,441.3 L1199.4,442.8 L1201.4,444.2 L1203.4,445.7 L1205.4,447.1 L1207.5,448.6 L1209.6,450.0 L1211.6,451.4 L1213.7,452.7 L1215.8,454.1 L1217.9,455.4 L1220.1,456.7 L1222.2,458.1 L1224.3,459.4 L1226.5,460.7 L1228.6,461.9 L1230.8,463.2 L1232.9,464.5 L1235.1,465.7 L1237.3,466.9 L1239.5,468.1 L1241.7,469.2 L1243.9,470.4 L1246.2,471.5 L1248.4,472.6 L1250.7,473.7 L1252.9,474.7 L1255.2,475.8 L1257.5,476.8 L1259.8,477.8 L1262.1,478.8 L1264.4,479.7 L1266.7,480.7 L1269.0,481.6 L1271.3,482.6 L1273.7,483.5 L1276.0,484.4 L1278.3,485.3 L1280.7,486.2 L1283.0,487.0 L1285.4,487.9 L1287.7,488.8 L1290.1,489.6 L1292.4,490.4 L1294.8,491.2 L1297.2,492.0 L1299.5,492.8 L1301.9,493.5 L1304.3,494.2 L1306.7,494.9 L1309.1,495.6 L1311.5,496.3 L1314.0,496.9 L1316.4,497.6 L1318.8,498.2 L1321.2,498.8 L1323.6,499.5 L1326.1,500.1 L1328.5,500.7 L1330.9,501.3 L1333.3,501.9 L1335.8,502.5 L1338.2,503.1 L1340.6,503.6 L1343.1,504.2 L1345.5,504.8 L1347.9,505.3 L1350.4,505.9 L1352.8,506.4 L1355.3,507.0 L1357.7,507.5 L1360.1,508.0 L1362.6,508.5 L1365.0,509.0 L1367.5,509.5 L1370.0,510.0 L1372.4,510.4 L1374.9,510.9 L1377.3,511.4 L1379.8,511.8 L1382.3,512.2 L1384.7,512.7 L1387.2,513.1 L1389.6,513.5 L1392.1,513.9 L1394.6,514.3 L1397.1,514.6 L1399.5,515.0 L1402.0,515.4 L1404.5,515.7 L1407.0,516.0 L1409.4,516.3 L1411.9,516.6 L1414.4,516.9 L1416.9,517.2 L1419.4,517.5 L1421.9,517.8 L1424.3,518.1 L1426.8,518.4 L1429.3,518.8 L1431.8,519.1 L1434.3,519.4 L1436.7,519.8 L1439.2,520.1 L1441.7,520.5 L1444.2,520.9 L1446.6,521.3 L1449.1,521.7 L1451.6,522.0 L1454.0,522.4 L1456.5,522.8 L1459.0,523.1 L1461.5,523.5 L1463.9,523.8 L1466.4,524.2 L1468.9,524.5 L1471.4,524.9 L1473.8,525.2 L1476.3,525.5 L1478.8,525.8 L1481.3,526.1 L1483.8,526.4 L1486.3,526.7 L1488.7,526.9 L1491.2,527.2 L1493.7,527.4 L1496.2,527.7 L1498.7,527.9 L1501.2,528.1 L1503.7,528.4 L1506.2,528.6 L1508.7,528.8 L1511.2,529.0 L1513.7,529.1 L1516.1,529.3 L1518.6,529.5 L1521.1,529.7 L1523.6,529.8 L1526.1,529.9 L1528.6,530.1 L1531.1,530.2 L1533.6,530.3 L1536.1,530.4 L1538.6,530.6 L1541.1,530.7 L1543.6,530.8 L1546.1,530.9 L1548.6,531.1 L1551.1,531.2 L1553.6,531.4 L1556.1,531.5 L1558.6,531.7 L1561.1,531.8 L1563.6,531.9 L1566.1,532.1 L1568.6,532.2 L1571.1,532.4 L1573.6,532.5 L1576.1,532.7 L1578.6,532.8 L1581.1,532.9 L1583.6,533.1 L1586.1,533.2 L1588.6,533.3 L1591.0,533.5 L1593.5,533.6 L1596.0,533.7 L1598.5,533.9 L1601.0,534.0 L1603.5,534.1 L1606.0,534.2 L1608.5,534.3 L1611.0,534.4 L1613.5,534.5 L1616.0,534.6 L1618.5,534.7 L1621.0,534.9 L1623.5,535.0 L1626.0,535.1 L1628.5,535.2 L1631.0,535.3 L1633.5,535.4 L1636.0,535.5 L1638.5,535.6 L1641.0,535.7 L1643.5,535.8 L1646.0,535.9 L1648.5,536.0 L1651.0,536.1 L1653.5,536.1 L1656.0,536.2 L1658.5,536.3 L1661.0,536.4 L1663.5,536.5 L1666.0,536.5 L1668.5,536.6 L1671.0,536.7 L1673.5,536.7 L1676.0,536.8 L1678.5,536.9 L1681.0,536.9 L1683.5,537.0 L1686.0,537.0 L1688.5,537.1 L1691.0,537.2 L1693.5,537.2 L1696.0,537.3 L1698.5,537.3 L1701.0,537.4 L1703.5,537.4 L1706.0,537.5 L1708.5,537.5 L1711.0,537.6"/>
<path stroke="#000000" stroke-width="8.0" stroke-linecap="round" d="M227.0,182.0 L227.6,184.4 L228.1,186.9 L228.7,189.3 L229.2,191.8 L229.8,194.2 L230.3,196.6 L230.9,199.1 L231.4,201.5 L231.9,204.0 L232.5,206.4 L233.0,208.9 L233.5,211.3 L233.9,213.8 L234.4,216.2 L234.8,218.7 L235.2,221.2 L235.6,223.6 L236.1,226.1 L236.5,228.5 L237.1,231.0 L237.6,233.4 L238.2,235.8 L238.8,238.3 L239.5,240.7 L240.1,243.1 L240.8,245.5 L241.5,247.9 L242.2,250.3 L242.9,252.7 L243.5,255.1 L244.2,257.5 L244.9,259.9 L245.6,262.3 L246.3,264.7 L247.0,267.1 L247.8,269.5 L248.5,271.9 L249.2,274.3 L250.0,276.7 L250.8,279.1 L251.6,281.4 L252.4,283.8 L253.2,286.2 L254.0,288.5 L254.9,290.9 L255.7,293.2 L256.6,295.6 L257.5,297.9 L258.4,300.2 L259.3,302.6 L260.2,304.9 L261.1,307.2 L262.0,309.6 L263.0,311.9 L263.9,314.2 L264.8,316.5 L265.8,318.8 L266.8,321.1 L267.7,323.4 L268.7,325.8 L269.7,328.1 L270.6,330.4 L271.6,332.7 L272.6,335.0 L273.6,337.3 L274.6,339.6 L275.6,341.9 L276.6,344.1 L277.6,346.4 L278.6,348.7 L279.6,351.0 L280.6,353.3 L281.6,355.6 L282.6,357.9 L283.6,360.2 L284.6,362.5 L285.5,364.8 L286.5,367.1 L287.5,369.4 L288.5,371.7 L289.4,374.0 L290.4,376.3 L291.4,378.6 L292.4,380.9 L293.4,383.2 L294.4,385.5 L295.5,387.7 L296.5,390.0 L297.6,392.3 L298.7,394.5 L299.9,396.7 L301.0,398.9 L302.2,401.2 L303.4,403.3 L304.6,405.5 L305.9,407.7 L307.2,409.8 L308.5,411.9 L309.8,414.0 L311.2,416.1 L312.6,418.2 L314.1,420.2 L315.5,422.3 L317.1,424.3 L318.6,426.2 L320.2,428.1 L321.8,430.0 L323.5,431.9 L325.2,433.7 L327.0,435.4 L328.9,437.1 L330.7,438.7 L332.7,440.3 L334.6,441.9 L336.6,443.4 L338.6,445.0 L340.6,446.4 L342.6,447.9 L344.6,449.4 L346.7,450.8 L348.7,452.2 L350.8,453.6 L352.9,455.0 L355.0,456.4 L357.1,457.8 L359.1,459.2 L361.2,460.5 L363.3,461.9 L365.4,463.3 L367.5,464.6 L369.6,466.0 L371.7,467.4 L373.8,468.8 L375.9,470.1 L378.0,471.4 L380.2,472.6 L382.4,473.8 L384.7,474.8 L386.9,475.8 L389.3,476.8 L391.6,477.6 L394.0,478.3 L396.4,478.9 L398.8,479.4 L401.3,479.9 L403.8,480.3 L406.2,480.6 L408.7,480.9 L411.2,481.2 L413.7,481.5 L416.2,481.7 L418.7,481.9 L421.2,482.1 L423.7,482.3 L426.1,482.4 L428.6,482.6 L431.1,482.7 L433.6,482.8 L436.1,482.9 L438.6,482.9 L441.1,483.0 L443.6,483.0 L446.1,483.0 L448.6,482.9 L451.1,482.8 L453.6,482.7 L456.1,482.5 L458.6,482.3 L461.1,482.0 L463.6,481.6 L466.0,481.1 L468.4,480.6 L470.8,480.0 L473.2,479.3 L475.6,478.5 L477.9,477.6 L480.3,476.7 L482.5,475.7 L484.8,474.6 L487.1,473.6 L489.3,472.5 L491.6,471.5 L493.9,470.6 L496.3,469.7 L498.6,469.0 L501.0,468.3 L503.5,467.8 L505.9,467.4 L508.4,467.1 L510.8,466.9 L513.3,466.9 L515.8,467.1 L518.3,467.3 L520.8,467.6 L523.2,467.9 L525.7,468.4 L528.1,468.8 L530.6,469.3 L533.1,469.7 L535.5,470.2 L538.0,470.8 L540.4,471.3 L542.9,471.8 L545.3,472.3 L547.8,472.8 L550.2,473.3 L552.7,473.7 L555.1,474.2 L557.6,474.6 L560.1,474.9 L562.5,475.3 L565.0,475.6 L567.5,475.8 L570.0,476.0 L572.5,476.1 L575.0,476.1 L577.5,476.1 L580.0,476.1 L582.5,476.0 L585.0,475.9 L587.5,475.7 L590.0,475.4 L592.4,475.1 L594.9,474.8 L597.4,474.4 L599.8,473.9 L602.3,473.4 L604.7,472.9 L607.2,472.4 L609.6,471.8 L612.0,471.1 L614.4,470.5 L616.8,469.8 L619.2,469.1 L621.6,468.4 L624.0,467.6 L626.4,466.9 L628.8,466.2 L631.2,465.4 L633.6,464.7 L636.0,464.0 L638.4,463.4 L640.8,462.7 L643.2,462.1 L645.7,461.5 L648.1,460.9 L650.5,460.4 L653.0,459.9 L655.4,459.4 L657.9,458.9 L660.4,458.5 L662.8,458.1 L665.3,457.7 L667.8,457.4 L670.3,457.1 L672.7,456.8 L675.2,456.6 L677.7,456.4 L680.2,456.3 L682.7,456.2 L685.2,456.2 L687.7,456.3 L690.2,456.4 L692.7,456.7 L695.2,457.0 L697.6,457.3 L700.1,457.8 L702.5,458.3 L704.9,458.9 L707.3,459.6 L709.6,460.5 L712.0,461.4 L714.3,462.3 L716.5,463.4 L718.8,464.4 L721.1,465.5 L723.3,466.6 L725.6,467.6 L727.9,468.6 L730.2,469.7 L732.5,470.6 L734.8,471.5 L737.1,472.4 L739.5,473.3 L741.8,474.1 L744.2,474.9 L746.6,475.7 L749.0,476.4 L751.3,477.2 L753.7,478.0 L756.1,478.8 L758.5,479.6 L760.8,480.4 L763.2,481.2 L765.5,482.1 L767.9,483.0 L770.2,483.9 L772.5,484.8 L774.8,485.7 L777.2,486.6 L779.5,487.5 L781.9,488.4 L784.2,489.3 L786.5,490.1 L788.9,491.0 L791.3,491.8 L793.6,492.7 L796.0,493.5 L798.3,494.3 L800.7,495.2 L803.0,496.0 L805.4,496.8 L807.8,497.7 L810.1,498.5 L812.5,499.3 L814.9,500.1 L817.2,500.9 L819.6,501.7 L821.9,502.5 L824.3,503.4 L826.7,504.2 L829.0,505.1 L831.3,506.0 L833.6,507.0 L835.9,508.0 L838.2,509.0 L840.5,510.0 L842.8,511.0 L845.1,512.0 L847.4,513.0 L849.7,513.9 L852.0,514.9 L854.3,515.9 L856.6,516.8 L858.9,517.7 L861.3,518.6 L863.6,519.5 L866.0,520.4 L868.3,521.3 L870.7,522.1 L873.0,523.0 L875.4,523.8 L877.7,524.6 L880.1,525.3 L882.5,526.1 L884.9,526.8 L887.3,527.5 L889.7,528.2 L892.1,528.9 L894.5,529.5 L897.0,530.1 L899.4,530.8 L901.8,531.4 L904.2,531.9 L906.7,532.5 L909.1,533.1 L911.6,533.6 L914.0,534.1 L916.5,534.6 L918.9,535.1 L921.4,535.6 L923.8,536.0 L926.3,536.5 L928.7,536.9 L931.2,537.4 L933.7,537.8 L936.1,538.2 L938.6,538.6 L941.1,539.0 L943.5,539.4 L946.0,539.8 L948.5,540.2 L951.0,540.6 L953.4,540.9 L955.9,541.3 L958.4,541.6 L960.9,541.9 L963.4,542.2 L965.8,542.5 L968.3,542.8 L970.8,543.0 L973.3,543.2 L975.8,543.5 L978.3,543.7 L980.8,543.8 L983.3,544.0 L985.8,544.2 L988.3,544.3 L990.8,544.5 L993.3,544.6 L995.8,544.8 L998.3,544.9 L1000.8,545.0 L1003.3,545.1 L1005.8,545.2 L1008.3,545.3 L1010.8,545.3 L1013.3,545.4 L1015.8,545.5 L1018.3,545.5 L1020.8,545.5 L1023.3,545.6 L1025.8,545.6 L1028.3,545.7 L1030.8,545.7 L1033.3,545.7 L1035.8,545.7 L1038.3,545.8 L1040.8,545.8 L1043.3,545.8 L1045.8,545.8 L1048.3,545.8 L1050.8,545.8 L1053.3,545.9 L1055.8,545.9 L1058.3,545.9 L1060.8,545.9 L1063.3,545.9 L1065.8,545.9 L1068.3,545.9 L1070.8,545.9 L1073.3,545.9 L1075.8,546.0 L1078.3,546.0 L1080.8,546.0 L1083.3,546.0 L1085.8,546.0 L1088.3,546.1 L1090.8,546.1 L1093.3,546.1 L1095.8,546.2 L1098.3,546.2 L1100.8,546.3 L1103.3,546.3 L1105.8,546.3 L1108.3,546.4 L1110.8,546.4 L1113.3,546.4 L1115.8,546.5 L1118.3,546.5 L1120.8,546.5 L1123.3,546.5 L1125.8,546.6 L1128.3,546.6 L1130.8,546.6 L1133.3,546.6 L1135.8,546.6 L1138.3,546.7 L1140.8,546.7 L1143.3,546.7 L1145.8,546.7 L1148.3,546.7 L1150.8,546.7 L1153.3,546.7 L1155.8,546.7 L1158.3,546.8 L1160.8,546.8 L1163.3,546.8 L1165.8,546.8 L1168.3,546.8 L1170.8,546.8 L1173.3,546.8 L1175.8,546.8 L1178.3,546.9 L1180.8,546.9 L1183.3,546.9 L1185.8,546.9 L1188.3,546.9 L1190.8,546.9 L1193.3,546.9 L1195.8,546.9 L1198.3,546.9 L1200.8,547.0 L1203.3,547.0 L1205.8,547.0 L1208.3,547.0 L1210.8,547.0 L1213.3,547.0 L1215.8,547.0 L1218.3,547.0 L1220.8,547.0 L1223.3,547.1 L1225.8,547.1 L1228.3,547.1 L1230.9,547.1 L1233.4,547.1 L1235.9,547.1 L1238.4,547.1 L1240.9,547.1 L1243.4,547.2 L1245.9,547.2 L1248.4,547.2 L1250.9,547.2 L1253.4,547.2 L1255.9,547.2 L1258.4,547.2 L1260.9,547.3 L1263.4,547.3 L1265.9,547.3 L1268.4,547.3 L1270.9,547.3 L1273.4,547.3 L1275.9,547.3 L1278.4,547.3 L1280.9,547.4 L1283.4,547.4 L1285.9,547.4 L1288.4,547.4 L1290.9,547.4 L1293.4,547.4 L1295.9,547.4 L1298.4,547.4 L1300.9,547.5 L1303.4,547.5 L1305.9,547.5 L1308.4,547.5 L1310.9,547.5 L1313.4,547.5 L1315.9,547.5 L1318.4,547.6 L1320.9,547.6 L1323.4,547.6 L1325.9,547.6 L1328.4,547.6 L1330.9,547.6 L1333.4,547.6 L1335.9,547.7 L1338.4,547.7 L1340.9,547.7 L1343.4,547.7 L1345.9,547.7 L1348.4,547.8 L1350.9,547.8 L1353.4,547.8 L1355.9,547.8 L1358.4,547.9 L1360.9,547.9 L1363.4,547.9 L1365.9,548.0 L1368.4,548.0 L1370.9,548.0 L1373.4,548.1 L1375.9,548.1 L1378.4,548.1 L1380.9,548.2 L1383.4,548.2 L1385.9,548.2 L1388.4,548.3 L1390.9,548.3 L1393.4,548.4 L1395.9,548.4 L1398.4,548.5 L1400.9,548.5 L1403.4,548.6 L1405.9,548.6 L1408.4,548.7 L1410.9,548.7 L1413.4,548.8 L1415.9,548.9 L1418.4,548.9 L1420.9,549.0 L1423.4,549.0 L1425.9,549.1 L1428.4,549.2 L1430.9,549.2 L1433.4,549.3 L1435.9,549.3 L1438.4,549.4 L1440.9,549.5 L1443.4,549.5 L1445.9,549.6 L1448.4,549.7 L1450.9,549.8 L1453.4,549.8 L1455.9,549.9 L1458.4,550.0 L1460.9,550.0 L1463.4,550.1 L1465.9,550.2 L1468.4,550.3 L1470.9,550.4 L1473.4,550.4 L1475.9,550.5 L1478.4,550.6 L1480.9,550.7 L1483.4,550.8 L1485.9,550.9 L1488.4,551.1 L1490.9,551.2 L1493.4,551.3 L1495.9,551.4 L1498.4,551.5 L1500.9,551.6 L1503.4,551.7 L1505.9,551.7 L1508.4,551.8 L1510.9,551.9 L1513.4,552.0 L1515.9,552.0 L1518.4,552.1 L1520.9,552.2 L1523.4,552.2 L1525.9,552.3 L1528.4,552.3 L1530.9,552.4 L1533.4,552.4 L1535.9,552.5 L1538.4,552.5 L1540.9,552.6 L1543.4,552.6 L1545.9,552.6 L1548.4,552.7 L1550.9,552.7 L1553.4,552.8 L1555.9,552.8 L1558.4,552.8 L1560.9,552.9 L1563.4,552.9 L1565.9,552.9 L1568.4,553.0 L1570.9,553.0 L1573.4,553.0 L1575.9,553.1 L1578.4,553.1 L1580.9,553.1 L1583.4,553.2 L1585.9,553.2 L1588.4,553.2 L1590.9,553.2 L1593.4,553.3 L1595.9,553.3 L1598.4,553.3 L1601.0,553.4 L1603.5,553.4 L1606.0,553.4 L1608.5,553.4 L1611.0,553.4 L1613.5,553.5 L1616.0,553.5 L1618.5,553.5 L1621.0,553.5 L1623.5,553.5 L1626.0,553.6 L1628.5,553.6 L1631.0,553.6 L1633.5,553.6 L1636.0,553.6 L1638.5,553.6 L1641.0,553.7 L1643.5,553.7 L1646.0,553.7 L1648.5,553.7 L1651.0,553.7 L1653.5,553.7 L1656.0,553.7 L1658.5,553.8 L1661.0,553.8 L1663.5,553.8 L1666.0,553.8 L1668.5,553.8 L1671.0,553.8 L1673.5,553.8 L1676.0,553.8 L1678.5,553.8 L1681.0,553.9 L1683.5,553.9 L1686.0,553.9 L1688.5,553.9 L1691.0,553.9 L1693.5,553.9 L1696.0,553.9 L1698.5,553.9 L1701.0,554.0 L1703.5,554.0 L1706.0,554.0 L1708.5,554.0 L1711.0,554.0"/>
</g>
<g stroke="#000" stroke-width="2.8" fill="none" stroke-linecap="square">
<rect x="225.8" y="52.7" width="1482.4" height="504.5"/>
<line x1="211.8" y1="557.2" x2="225.8" y2="557.2"/>
<line x1="211.8" y1="456.3" x2="225.8" y2="456.3"/>
<line x1="211.8" y1="355.4" x2="225.8" y2="355.4"/>
<line x1="211.8" y1="254.5" x2="225.8" y2="254.5"/>
<line x1="211.8" y1="153.6" x2="225.8" y2="153.6"/>
<line x1="211.8" y1="52.7" x2="225.8" y2="52.7"/>
<line x1="218.8" y1="506.8" x2="225.8" y2="506.8"/>
<line x1="218.8" y1="405.9" x2="225.8" y2="405.9"/>
<line x1="218.8" y1="304.9" x2="225.8" y2="304.9"/>
<line x1="218.8" y1="204.1" x2="225.8" y2="204.1"/>
<line x1="218.8" y1="103.1" x2="225.8" y2="103.1"/>
<line x1="225.8" y1="557.2" x2="225.8" y2="570.2"/>
<line x1="596.4" y1="557.2" x2="596.4" y2="570.2"/>
<line x1="967.0" y1="557.2" x2="967.0" y2="570.2"/>
<line x1="1337.6" y1="557.2" x2="1337.6" y2="570.2"/>
<line x1="1708.2" y1="557.2" x2="1708.2" y2="570.2"/>
<line x1="411.1" y1="557.2" x2="411.1" y2="563.7"/>
<line x1="781.7" y1="557.2" x2="781.7" y2="563.7"/>
<line x1="1152.3" y1="557.2" x2="1152.3" y2="563.7"/>
<line x1="1522.9" y1="557.2" x2="1522.9" y2="563.7"/>
</g>
<g stroke-width="3.0" stroke-linecap="butt">
<line x1="948.5" y1="97.5" x2="948.5" y2="157.0" stroke="#0000ff"/>
<line x1="957.4" y1="109.0" x2="957.4" y2="168.6" stroke="#0000ff"/>
<line x1="979.2" y1="203.6" x2="979.2" y2="263.5" stroke="#0000ff"/>
</g>
<g font-size="56.0" fill="#000">
<text transform="translate(203.0,572.7) scale(1,1.040)" text-anchor="end">0.0</text>
<text transform="translate(203.0,471.8) scale(1,1.040)" text-anchor="end">0.3</text>
<text transform="translate(203.0,370.9) scale(1,1.040)" text-anchor="end">0.6</text>
<text transform="translate(203.0,270.0) scale(1,1.040)" text-anchor="end">0.9</text>
<text transform="translate(203.0,169.1) scale(1,1.040)" text-anchor="end">1.2</text>
<text transform="translate(203.0,68.2) scale(1,1.040)" text-anchor="end">1.5</text>
<text transform="translate(225.8,622.3) scale(1,1.040)" text-anchor="middle">200</text>
<text transform="translate(596.4,622.3) scale(1,1.040)" text-anchor="middle">300</text>
<text transform="translate(967.0,622.3) scale(1,1.040)" text-anchor="middle">400</text>
<text transform="translate(1337.6,622.3) scale(1,1.040)" text-anchor="middle">500</text>
<text transform="translate(1708.2,622.3) scale(1,1.040)" text-anchor="middle">600</text>
</g>
<text transform="translate(967.0,695.0) scale(1,1.015)" font-size="56.0" text-anchor="middle">Wavelength (nm)</text>
<text transform="translate(66.0,313.8) rotate(-90) scale(1,1.030)" font-size="56.0" text-anchor="middle">Abs</text>
<text class="b" transform="translate(300.9,135.1) scale(1,0.975)" font-size="74.7" fill="#000">(a)</text>
<text class="b" transform="translate(351.2,294.2) scale(1,1.020)" font-size="56.1" fill="#0000ff">Quercetin-Ag</text>
<text class="b" transform="translate(620.7,193.1) scale(1,1.020)" font-size="55.5" fill="#000">pH value</text>
<text class="b" transform="translate(238.6,532.2) scale(1,1.020)" font-size="56.0" fill="#000">Quercetin</text>
<text class="b" transform="translate(781.0,104.6) scale(1,1.030)" font-size="43.3" fill="#0000ff">396 nm</text>
<text class="b" transform="translate(978.4,121.6) scale(1,1.030)" font-size="43.3" fill="#0000ff">398 nm</text>
<text class="b" transform="translate(925.6,329.6) scale(1,1.030)" font-size="43.7" fill="#0000ff">401 nm</text>
<text class="b" transform="translate(855.8,176.0) scale(1,1.040)" font-size="42.8" fill="#000">10</text>
<text class="b" transform="translate(867.7,275.0) scale(1,1.040)" font-size="41.7" fill="#000">9</text>
<text class="b" transform="translate(866.6,373.6) scale(1,1.040)" font-size="42.5" fill="#000">8</text>
<text class="b" transform="translate(853.8,510.4) scale(1,1.040)" font-size="42.8" fill="#000">10</text>
<text class="b" transform="translate(1201.5,114.9) scale(1,1.020)" font-size="33.5" fill="#000">Quercetin</text>
<text class="b" transform="translate(1472.9,115.7) scale(1,1.020)" font-size="33.4" fill="#0000ff">Quercetin-Ag</text>
<text class="b" transform="translate(1374.9,160.0) scale(1,1.030)" font-size="33.9" fill="#000">pH 10</text>
<rect x="1223.0" y="118.8" width="112.2" height="139.2" fill="#d2d3d5"/>
<rect x="1223.0" y="258.0" width="112.2" height="70.8" fill="#e6e5e0"/>
<path d="M1236.5,200.0 C1236.5,186.0 1243.0,176.0 1249.0,174.0 L1318.0,174.0 C1324.0,176.0 1327.4,186.0 1327.4,200.0 L1327.4,303.5 Q1327.4,321.5 1309.4,321.5 L1254.5,321.5 Q1236.5,321.5 1236.5,303.5 Z" fill="url(#liqQ)"/>
<rect x="1240.5" y="260.0" width="82.9" height="16.0" fill="#e2b884" opacity="0.28"/>
<path d="M1238.5,289.5 L1325.4,289.5 L1325.4,303.5 Q1325.4,319.5 1309.4,319.5 L1254.5,319.5 Q1238.5,319.5 1238.5,303.5 Z" fill="#d4a468" opacity="0.6"/>
<path d="M1239.5,289.5 Q1282.0,287.5 1324.4,289.5" stroke="#a8743a" stroke-width="2" fill="none" opacity="0.8"/>
<rect x="1249.0" y="163.0" width="69.0" height="15.0" fill="url(#liqQ)"/>
<rect x="1249.0" y="163.0" width="69.0" height="6.6" fill="#3a3424" opacity="0.85"/>
<rect x="1239.6" y="148.0" width="85.2" height="16.0" rx="5" fill="#3e3e30"/>
<rect x="1241.6" y="153.0" width="81.2" height="1.6" fill="#a8884c" opacity="0.7"/>
<g fill="#fff" opacity="0.8"><ellipse cx="1270.9" cy="157.4" rx="2.2" ry="1.1"/><ellipse cx="1301.4" cy="157.4" rx="3" ry="1"/></g>
<rect x="1238.6" y="132.2" width="87.2" height="19.8" rx="8.3" fill="#343e3e"/>
<ellipse cx="1282.2" cy="136.6" rx="39.6" ry="4.0" fill="#4c5656" opacity="0.75"/>
<ellipse cx="1282.2" cy="135.0" rx="12.2" ry="2.0" fill="#2a3232" opacity="0.6"/>
<g fill="#fff" opacity="0.9"><ellipse cx="1266.5" cy="198.0" rx="2.4" ry="1.1" transform="rotate(35 1266.5 198.0)"/><ellipse cx="1301.9" cy="198.0" rx="3" ry="1.1" transform="rotate(-25 1301.9 198.0)"/><ellipse cx="1311.9" cy="197.0" rx="2" ry="1" transform="rotate(-25 1311.9 197.0)"/></g>
<rect x="1518.2" y="120.0" width="118.3" height="120.0" fill="#d4d5d6"/>
<rect x="1518.2" y="240.0" width="118.3" height="87.3" fill="#e8e8e6"/>
<path d="M1536.0,198.0 C1536.0,184.0 1543.0,180.0 1549.0,178.0 L1617.0,178.0 C1623.0,180.0 1627.5,184.0 1627.5,198.0 L1627.5,301.6 Q1627.5,319.6 1609.5,319.6 L1554.0,319.6 Q1536.0,319.6 1536.0,301.6 Z" fill="url(#liqQA)"/>
<rect x="1540.0" y="242.0" width="83.5" height="16.0" fill="#743c20" opacity="0.28"/>
<path d="M1538.0,287.6 L1625.5,287.6 L1625.5,301.6 Q1625.5,317.6 1609.5,317.6 L1554.0,317.6 Q1538.0,317.6 1538.0,301.6 Z" fill="#5e2c14" opacity="0.6"/>
<path d="M1539.0,287.6 Q1581.8,285.6 1624.5,287.6" stroke="#2e1206" stroke-width="2" fill="none" opacity="0.8"/>
<rect x="1549.0" y="170.5" width="68.0" height="11.5" fill="url(#liqQA)"/>
<rect x="1549.0" y="170.5" width="68.0" height="4.7" fill="#2c2c26" opacity="0.85"/>
<rect x="1538.0" y="150.4" width="87.3" height="21.1" rx="5" fill="#3e4444"/>
<rect x="1540.0" y="155.4" width="83.3" height="1.6" fill="#8a8a80" opacity="0.7"/>
<g fill="#fff" opacity="0.8"><ellipse cx="1570.0" cy="162.1" rx="2.2" ry="1.1"/><ellipse cx="1601.3" cy="162.1" rx="3" ry="1"/></g>
<rect x="1537.0" y="131.6" width="89.3" height="22.8" rx="9.0" fill="#52585a"/>
<ellipse cx="1581.7" cy="136.6" rx="40.6" ry="4.6" fill="#5c6264" opacity="0.75"/>
<ellipse cx="1581.7" cy="134.8" rx="12.5" ry="2.3" fill="#464c4e" opacity="0.6"/>
<g fill="#fff" opacity="0.9"><ellipse cx="1566.2" cy="196.0" rx="2.4" ry="1.1" transform="rotate(35 1566.2 196.0)"/><ellipse cx="1601.9" cy="196.0" rx="3" ry="1.1" transform="rotate(-25 1601.9 196.0)"/><ellipse cx="1611.9" cy="195.0" rx="2" ry="1" transform="rotate(-25 1611.9 195.0)"/></g>
<path d="M1355.3,206.7 L1446.0,206.7 L1446.0,181.0 L1497.0,226.3 L1446.0,271.9 L1446.0,245.6 L1355.3,245.6 Z" fill="url(#arr)" stroke="#05057e" stroke-width="3" stroke-linejoin="miter"/>
<clipPath id="cb"><rect x="227.2" y="739.4" width="1482.7" height="504.3"/></clipPath>
<g clip-path="url(#cb)" fill="none" stroke-linejoin="round">
<path stroke="#800080" stroke-width="4.5" stroke-linecap="round" d="M267.5,730.0 L267.9,732.5 L268.3,734.9 L268.8,737.4 L269.2,739.8 L269.7,742.3 L270.3,744.7 L270.8,747.2 L271.3,749.6 L271.9,752.1 L272.4,754.5 L272.9,757.0 L273.4,759.4 L273.9,761.9 L274.4,764.3 L274.8,766.8 L275.2,769.2 L275.6,771.7 L276.0,774.2 L276.4,776.7 L276.7,779.1 L277.1,781.6 L277.4,784.1 L277.8,786.6 L278.2,789.0 L278.5,791.5 L278.9,794.0 L279.3,796.4 L279.7,798.9 L280.1,801.4 L280.5,803.8 L281.0,806.3 L281.5,808.8 L282.0,811.2 L282.5,813.7 L283.0,816.1 L283.5,818.6 L284.0,821.0 L284.5,823.5 L285.0,825.9 L285.5,828.4 L286.0,830.8 L286.5,833.3 L287.0,835.7 L287.4,838.2 L287.9,840.6 L288.4,843.1 L288.9,845.5 L289.4,848.0 L289.9,850.4 L290.4,852.9 L290.9,855.3 L291.3,857.8 L291.8,860.2 L292.3,862.7 L292.8,865.1 L293.3,867.6 L293.8,870.0 L294.2,872.5 L294.7,875.0 L295.2,877.4 L295.7,879.9 L296.2,882.3 L296.7,884.8 L297.2,887.2 L297.7,889.7 L298.2,892.1 L298.7,894.6 L299.3,897.0 L299.8,899.4 L300.4,901.9 L301.0,904.3 L301.6,906.7 L302.2,909.2 L302.8,911.6 L303.4,914.0 L304.0,916.4 L304.6,918.8 L305.3,921.3 L305.9,923.7 L306.5,926.1 L307.1,928.5 L307.7,931.0 L308.3,933.4 L308.8,935.8 L309.4,938.3 L309.9,940.7 L310.5,943.2 L311.0,945.6 L311.5,948.0 L312.1,950.5 L312.6,952.9 L313.1,955.4 L313.7,957.8 L314.2,960.3 L314.8,962.7 L315.3,965.1 L315.9,967.6 L316.5,970.0 L317.1,972.4 L317.7,974.9 L318.3,977.3 L318.9,979.7 L319.6,982.1 L320.3,984.5 L321.0,986.9 L321.7,989.3 L322.5,991.7 L323.3,994.0 L324.2,996.4 L325.1,998.7 L326.0,1001.0 L327.0,1003.3 L328.0,1005.6 L329.1,1007.9 L330.1,1010.1 L331.2,1012.4 L332.3,1014.6 L333.4,1016.9 L334.5,1019.1 L335.7,1021.3 L336.8,1023.5 L338.0,1025.8 L339.2,1027.9 L340.4,1030.1 L341.7,1032.3 L343.0,1034.4 L344.4,1036.5 L345.8,1038.6 L347.3,1040.6 L348.8,1042.5 L350.4,1044.4 L352.1,1046.3 L353.8,1048.1 L355.5,1049.9 L357.4,1051.6 L359.3,1053.2 L361.2,1054.8 L363.2,1056.3 L365.2,1057.7 L367.3,1059.1 L369.4,1060.4 L371.5,1061.7 L373.7,1062.9 L376.0,1064.0 L378.2,1065.0 L380.5,1066.0 L382.9,1066.9 L385.2,1067.6 L387.6,1068.4 L390.0,1069.0 L392.5,1069.5 L394.9,1070.0 L397.4,1070.4 L399.8,1070.7 L402.3,1071.0 L404.8,1071.3 L407.3,1071.5 L409.8,1071.6 L412.3,1071.7 L414.8,1071.8 L417.3,1071.9 L419.8,1072.0 L422.3,1072.0 L424.8,1072.1 L427.3,1072.2 L429.8,1072.4 L432.2,1072.7 L434.7,1073.0 L437.2,1073.3 L439.7,1073.7 L442.1,1074.2 L444.6,1074.6 L447.0,1075.1 L449.5,1075.7 L451.9,1076.3 L454.3,1076.9 L456.7,1077.7 L459.0,1078.5 L461.4,1079.3 L463.7,1080.2 L466.0,1081.2 L468.3,1082.2 L470.6,1083.2 L472.9,1084.2 L475.2,1085.2 L477.4,1086.2 L479.7,1087.3 L481.9,1088.5 L484.1,1089.7 L486.3,1090.9 L488.4,1092.2 L490.5,1093.6 L492.6,1094.9 L494.7,1096.3 L496.7,1097.7 L498.8,1099.1 L500.9,1100.5 L503.0,1101.9 L505.0,1103.3 L507.1,1104.7 L509.2,1106.1 L511.3,1107.4 L513.4,1108.7 L515.5,1110.0 L517.7,1111.2 L520.0,1112.2 L522.3,1113.2 L524.6,1114.2 L526.9,1115.0 L529.2,1115.9 L531.6,1116.7 L534.0,1117.5 L536.3,1118.4 L538.7,1119.2 L541.1,1120.0 L543.4,1120.8 L545.8,1121.6 L548.2,1122.4 L550.5,1123.2 L552.9,1124.1 L555.2,1124.9 L557.6,1125.7 L560.0,1126.5 L562.3,1127.3 L564.7,1128.1 L567.1,1129.0 L569.4,1129.8 L571.8,1130.7 L574.1,1131.6 L576.4,1132.5 L578.8,1133.4 L581.1,1134.3 L583.4,1135.2 L585.7,1136.1 L588.1,1137.1 L590.4,1138.0 L592.7,1138.9 L595.0,1139.9 L597.3,1140.8 L599.6,1141.8 L602.0,1142.7 L604.3,1143.6 L606.6,1144.6 L608.9,1145.5 L611.2,1146.4 L613.6,1147.4 L615.9,1148.3 L618.2,1149.2 L620.5,1150.1 L622.9,1151.1 L625.2,1152.0 L627.5,1152.8 L629.9,1153.7 L632.2,1154.6 L634.6,1155.5 L636.9,1156.3 L639.3,1157.1 L641.7,1157.8 L644.1,1158.5 L646.5,1159.2 L648.9,1159.8 L651.3,1160.3 L653.8,1160.8 L656.2,1161.2 L658.7,1161.5 L661.2,1161.8 L663.7,1162.0 L666.2,1162.1 L668.7,1162.2 L671.2,1162.2 L673.7,1162.2 L676.2,1162.1 L678.7,1161.9 L681.1,1161.7 L683.6,1161.5 L686.1,1161.1 L688.6,1160.8 L691.1,1160.4 L693.5,1160.0 L696.0,1159.5 L698.4,1159.1 L700.9,1158.6 L703.3,1158.0 L705.8,1157.5 L708.2,1157.0 L710.7,1156.5 L713.1,1155.9 L715.5,1155.4 L718.0,1154.9 L720.4,1154.3 L722.8,1153.7 L725.2,1153.1 L727.6,1152.3 L729.9,1151.5 L732.2,1150.5 L734.4,1149.4 L736.7,1148.3 L738.9,1147.1 L741.1,1146.0 L743.3,1144.9 L745.6,1143.8 L747.9,1142.8 L750.2,1141.8 L752.5,1140.8 L754.8,1139.9 L757.1,1139.0 L759.4,1138.1 L761.8,1137.2 L764.1,1136.3 L766.5,1135.5 L768.8,1134.5 L771.1,1133.6 L773.4,1132.7 L775.7,1131.7 L778.0,1130.7 L780.3,1129.8 L782.6,1128.8 L785.0,1127.8 L787.3,1126.9 L789.6,1126.0 L791.9,1125.0 L794.2,1124.1 L796.6,1123.2 L798.9,1122.3 L801.2,1121.3 L803.5,1120.4 L805.8,1119.5 L808.2,1118.5 L810.5,1117.6 L812.8,1116.6 L815.1,1115.6 L817.4,1114.6 L819.7,1113.7 L822.0,1112.7 L824.3,1111.7 L826.6,1110.7 L828.8,1109.7 L831.1,1108.6 L833.4,1107.6 L835.7,1106.6 L838.0,1105.6 L840.2,1104.5 L842.5,1103.5 L844.8,1102.4 L847.1,1101.4 L849.3,1100.3 L851.6,1099.2 L853.8,1098.1 L856.1,1097.0 L858.3,1095.9 L860.5,1094.8 L862.8,1093.6 L865.0,1092.5 L867.2,1091.4 L869.4,1090.2 L871.7,1089.1 L873.9,1087.9 L876.1,1086.8 L878.3,1085.7 L880.6,1084.6 L882.8,1083.5 L885.1,1082.4 L887.4,1081.4 L889.6,1080.3 L891.9,1079.3 L894.2,1078.3 L896.5,1077.3 L898.8,1076.3 L901.1,1075.4 L903.4,1074.4 L905.8,1073.5 L908.1,1072.6 L910.4,1071.7 L912.7,1070.8 L915.1,1069.9 L917.4,1069.0 L919.8,1068.2 L922.2,1067.4 L924.5,1066.6 L926.9,1065.8 L929.3,1065.1 L931.7,1064.4 L934.1,1063.7 L936.5,1063.0 L938.9,1062.3 L941.3,1061.7 L943.7,1061.0 L946.1,1060.4 L948.6,1059.8 L951.0,1059.1 L953.4,1058.5 L955.8,1057.9 L958.3,1057.3 L960.7,1056.7 L963.1,1056.2 L965.6,1055.6 L968.0,1055.2 L970.5,1054.7 L973.0,1054.4 L975.4,1054.0 L977.9,1053.7 L980.4,1053.5 L982.9,1053.3 L985.4,1053.1 L987.9,1053.0 L990.4,1053.0 L992.9,1053.0 L995.4,1053.0 L997.9,1053.2 L1000.3,1053.4 L1002.8,1053.7 L1005.3,1054.0 L1007.8,1054.4 L1010.2,1054.8 L1012.7,1055.3 L1015.1,1055.8 L1017.6,1056.3 L1020.0,1056.9 L1022.4,1057.6 L1024.8,1058.2 L1027.2,1059.0 L1029.6,1059.7 L1032.0,1060.5 L1034.3,1061.3 L1036.7,1062.1 L1039.0,1062.9 L1041.4,1063.8 L1043.8,1064.6 L1046.1,1065.5 L1048.4,1066.4 L1050.7,1067.4 L1053.0,1068.4 L1055.3,1069.5 L1057.5,1070.6 L1059.7,1071.7 L1062.0,1072.8 L1064.2,1074.0 L1066.4,1075.1 L1068.6,1076.3 L1070.8,1077.5 L1073.0,1078.7 L1075.2,1079.8 L1077.4,1081.0 L1079.6,1082.2 L1081.8,1083.4 L1084.0,1084.6 L1086.3,1085.7 L1088.5,1086.9 L1090.7,1088.1 L1092.9,1089.2 L1095.1,1090.4 L1097.3,1091.6 L1099.5,1092.8 L1101.7,1094.0 L1103.8,1095.3 L1105.9,1096.6 L1108.0,1098.0 L1110.0,1099.5 L1112.1,1100.9 L1114.1,1102.4 L1116.1,1103.8 L1118.2,1105.2 L1120.3,1106.5 L1122.5,1107.8 L1124.6,1109.0 L1126.8,1110.3 L1129.0,1111.5 L1131.2,1112.7 L1133.4,1113.9 L1135.6,1115.1 L1137.7,1116.3 L1139.9,1117.5 L1142.1,1118.7 L1144.3,1119.9 L1146.5,1121.1 L1148.7,1122.3 L1151.0,1123.4 L1153.2,1124.6 L1155.4,1125.7 L1157.7,1126.8 L1159.9,1127.9 L1162.1,1129.0 L1164.4,1130.1 L1166.6,1131.3 L1168.9,1132.4 L1171.1,1133.4 L1173.4,1134.5 L1175.6,1135.6 L1177.9,1136.6 L1180.2,1137.6 L1182.5,1138.6 L1184.8,1139.6 L1187.1,1140.5 L1189.4,1141.4 L1191.8,1142.3 L1194.1,1143.2 L1196.5,1144.0 L1198.8,1144.9 L1201.2,1145.7 L1203.6,1146.4 L1206.0,1147.2 L1208.3,1147.9 L1210.8,1148.6 L1213.2,1149.3 L1215.6,1149.9 L1218.0,1150.5 L1220.4,1151.1 L1222.9,1151.6 L1225.3,1152.2 L1227.8,1152.7 L1230.2,1153.2 L1232.7,1153.7 L1235.1,1154.2 L1237.6,1154.7 L1240.0,1155.2 L1242.5,1155.7 L1244.9,1156.2 L1247.4,1156.7 L1249.8,1157.2 L1252.3,1157.7 L1254.7,1158.2 L1257.2,1158.7 L1259.6,1159.1 L1262.1,1159.6 L1264.5,1160.1 L1267.0,1160.5 L1269.5,1161.0 L1271.9,1161.4 L1274.4,1161.8 L1276.9,1162.2 L1279.3,1162.6 L1281.8,1163.0 L1284.2,1163.5 L1286.7,1163.9 L1289.2,1164.3 L1291.6,1164.6 L1294.1,1165.0 L1296.6,1165.3 L1299.1,1165.6 L1301.6,1165.9 L1304.0,1166.2 L1306.5,1166.5 L1309.0,1166.8 L1311.5,1167.1 L1314.0,1167.5 L1316.4,1167.8 L1318.9,1168.1 L1321.4,1168.4 L1323.9,1168.6 L1326.4,1168.9 L1328.9,1169.1 L1331.4,1169.3 L1333.9,1169.5 L1336.4,1169.6 L1338.9,1169.8 L1341.3,1170.0 L1343.8,1170.2 L1346.3,1170.4 L1348.8,1170.6 L1351.3,1170.8 L1353.8,1170.9 L1356.3,1171.1 L1358.8,1171.3 L1361.3,1171.5 L1363.8,1171.7 L1366.3,1171.9 L1368.8,1172.1 L1371.3,1172.2 L1373.8,1172.4 L1376.3,1172.6 L1378.8,1172.8 L1381.2,1173.0 L1383.7,1173.2 L1386.2,1173.4 L1388.7,1173.6 L1391.2,1173.8 L1393.7,1174.0 L1396.2,1174.1 L1398.7,1174.3 L1401.2,1174.5 L1403.7,1174.7 L1406.2,1174.9 L1408.7,1175.1 L1411.2,1175.2 L1413.7,1175.4 L1416.2,1175.6 L1418.7,1175.7 L1421.2,1175.9 L1423.7,1176.0 L1426.1,1176.1 L1428.6,1176.2 L1431.1,1176.4 L1433.6,1176.5 L1436.1,1176.6 L1438.6,1176.7 L1441.1,1176.8 L1443.6,1176.9 L1446.1,1177.0 L1448.6,1177.2 L1451.1,1177.3 L1453.6,1177.4 L1456.1,1177.5 L1458.6,1177.6 L1461.1,1177.7 L1463.6,1177.8 L1466.1,1177.9 L1468.6,1178.1 L1471.1,1178.2 L1473.6,1178.3 L1476.1,1178.4 L1478.6,1178.5 L1481.1,1178.6 L1483.6,1178.7 L1486.1,1178.9 L1488.6,1179.0 L1491.1,1179.1 L1493.6,1179.2 L1496.1,1179.3 L1498.6,1179.4 L1501.1,1179.5 L1503.6,1179.6 L1506.1,1179.8 L1508.6,1179.9 L1511.1,1180.0 L1513.6,1180.1 L1516.1,1180.2 L1518.6,1180.3 L1521.1,1180.4 L1523.6,1180.6 L1526.1,1180.7 L1528.6,1180.8 L1531.1,1180.9 L1533.6,1181.1 L1536.1,1181.2 L1538.6,1181.3 L1541.1,1181.4 L1543.6,1181.6 L1546.0,1181.7 L1548.5,1181.8 L1551.0,1181.9 L1553.5,1182.1 L1556.0,1182.2 L1558.5,1182.3 L1561.0,1182.4 L1563.5,1182.5 L1566.0,1182.7 L1568.5,1182.8 L1571.0,1182.9 L1573.5,1183.0 L1576.0,1183.1 L1578.5,1183.2 L1581.0,1183.3 L1583.5,1183.4 L1586.0,1183.5 L1588.5,1183.6 L1591.0,1183.7 L1593.5,1183.8 L1596.0,1183.9 L1598.5,1184.0 L1601.0,1184.1 L1603.5,1184.2 L1606.0,1184.2 L1608.5,1184.3 L1611.0,1184.4 L1613.5,1184.5 L1616.0,1184.5 L1618.5,1184.6 L1621.0,1184.7 L1623.5,1184.7 L1626.0,1184.8 L1628.5,1184.9 L1631.0,1185.0 L1633.5,1185.0 L1636.0,1185.1 L1638.5,1185.1 L1641.0,1185.2 L1643.5,1185.3 L1646.0,1185.3 L1648.5,1185.4 L1651.0,1185.5 L1653.5,1185.5 L1656.0,1185.6 L1658.5,1185.6 L1661.0,1185.7 L1663.5,1185.8 L1666.0,1185.8 L1668.5,1185.9 L1671.0,1185.9 L1673.5,1186.0 L1676.0,1186.1 L1678.5,1186.1 L1681.0,1186.2 L1683.5,1186.2 L1686.0,1186.3 L1688.5,1186.4 L1691.0,1186.4 L1693.5,1186.5 L1696.0,1186.5 L1698.5,1186.6 L1701.0,1186.7 L1703.5,1186.7 L1706.0,1186.8 L1708.5,1186.8 L1711.0,1186.9"/>
<path stroke="#800080" stroke-width="5.2" stroke-dasharray="14 29.5" stroke-linecap="round" d="M273.0,730.0 L273.4,732.5 L273.7,735.0 L274.0,737.4 L274.3,739.9 L274.5,742.4 L274.7,744.9 L274.9,747.4 L275.1,749.9 L275.2,752.4 L275.4,754.9 L275.6,757.4 L275.8,759.9 L276.1,762.4 L276.4,764.8 L276.8,767.3 L277.2,769.8 L277.6,772.2 L278.1,774.7 L278.7,777.1 L279.3,779.6 L279.9,782.0 L280.5,784.4 L281.2,786.8 L281.9,789.2 L282.7,791.6 L283.6,793.9 L284.4,796.3 L285.3,798.6 L286.2,801.0 L287.1,803.3 L287.9,805.7 L288.6,808.1 L289.3,810.5 L289.9,812.9 L290.5,815.3 L291.0,817.8 L291.5,820.2 L291.9,822.7 L292.4,825.1 L292.8,827.6 L293.3,830.1 L293.7,832.5 L294.1,835.0 L294.6,837.5 L295.0,839.9 L295.4,842.4 L295.8,844.9 L296.3,847.3 L296.7,849.8 L297.2,852.2 L297.7,854.7 L298.1,857.2 L298.6,859.6 L299.1,862.1 L299.5,864.5 L300.0,867.0 L300.5,869.4 L301.0,871.9 L301.5,874.4 L302.0,876.8 L302.5,879.3 L303.0,881.7 L303.5,884.2 L304.0,886.6 L304.5,889.1 L305.0,891.5 L305.6,894.0 L306.1,896.4 L306.7,898.8 L307.2,901.3 L307.8,903.7 L308.4,906.2 L309.0,908.6 L309.6,911.0 L310.2,913.5 L310.8,915.9 L311.4,918.3 L312.0,920.7 L312.6,923.2 L313.2,925.6 L313.9,928.0 L314.5,930.4 L315.1,932.9 L315.8,935.3 L316.4,937.7 L317.0,940.1 L317.7,942.5 L318.4,944.9 L319.0,947.3 L319.7,949.8 L320.5,952.1 L321.2,954.5 L322.0,956.9 L322.8,959.3 L323.7,961.6 L324.6,963.9 L325.6,966.3 L326.5,968.6 L327.5,970.9 L328.6,973.1 L329.6,975.4 L330.7,977.7 L331.8,979.9 L332.9,982.2 L334.0,984.4 L335.2,986.6 L336.4,988.8 L337.6,991.0 L338.9,993.2 L340.1,995.3 L341.5,997.4 L342.8,999.5 L344.3,1001.6 L345.7,1003.6 L347.2,1005.6 L348.8,1007.5 L350.4,1009.5 L352.1,1011.3 L353.8,1013.1 L355.5,1014.9 L357.3,1016.6 L359.2,1018.3 L361.1,1019.9 L363.1,1021.4 L365.1,1023.0 L367.1,1024.4 L369.2,1025.8 L371.3,1027.1 L373.5,1028.3 L375.7,1029.5 L377.9,1030.5 L380.2,1031.5 L382.5,1032.4 L384.9,1033.2 L387.3,1033.9 L389.7,1034.6 L392.1,1035.1 L394.6,1035.7 L397.0,1036.2 L399.5,1036.6 L402.0,1036.9 L404.5,1037.3 L406.9,1037.5 L409.4,1037.7 L411.9,1037.9 L414.4,1038.1 L416.9,1038.3 L419.4,1038.5 L421.9,1038.6 L424.4,1038.8 L426.9,1039.0 L429.4,1039.1 L431.9,1039.3 L434.4,1039.6 L436.9,1039.9 L439.3,1040.2 L441.8,1040.6 L444.3,1041.1 L446.7,1041.6 L449.1,1042.1 L451.6,1042.8 L454.0,1043.5 L456.4,1044.2 L458.7,1045.0 L461.1,1045.9 L463.4,1046.8 L465.7,1047.8 L467.9,1048.9 L470.2,1050.0 L472.4,1051.2 L474.6,1052.4 L476.7,1053.6 L478.9,1054.9 L481.0,1056.2 L483.1,1057.6 L485.2,1059.0 L487.2,1060.4 L489.3,1061.8 L491.3,1063.3 L493.4,1064.7 L495.4,1066.2 L497.5,1067.6 L499.5,1069.1 L501.5,1070.5 L503.5,1072.0 L505.6,1073.5 L507.6,1074.9 L509.6,1076.4 L511.7,1077.9 L513.7,1079.3 L515.7,1080.8 L517.8,1082.2 L519.8,1083.7 L521.9,1085.1 L524.0,1086.4 L526.1,1087.8 L528.2,1089.1 L530.4,1090.4 L532.5,1091.7 L534.7,1093.0 L536.8,1094.2 L539.0,1095.4 L541.2,1096.7 L543.4,1097.9 L545.6,1099.1 L547.8,1100.3 L550.0,1101.5 L552.2,1102.6 L554.4,1103.8 L556.6,1105.0 L558.8,1106.2 L561.0,1107.3 L563.3,1108.5 L565.5,1109.6 L567.7,1110.8 L569.9,1111.9 L572.2,1113.0 L574.4,1114.2 L576.7,1115.3 L578.9,1116.4 L581.2,1117.4 L583.4,1118.5 L585.7,1119.6 L588.0,1120.6 L590.2,1121.7 L592.5,1122.8 L594.7,1123.9 L597.0,1125.0 L599.2,1126.2 L601.4,1127.3 L603.6,1128.6 L605.8,1129.8 L607.9,1131.0 L610.1,1132.2 L612.3,1133.5 L614.5,1134.7 L616.7,1135.9 L618.8,1137.2 L621.0,1138.4 L623.2,1139.6 L625.4,1140.8 L627.6,1142.0 L629.8,1143.2 L632.1,1144.3 L634.3,1145.3 L636.6,1146.3 L639.0,1147.2 L641.3,1148.0 L643.7,1148.8 L646.1,1149.6 L648.5,1150.2 L650.9,1150.9 L653.3,1151.4 L655.8,1151.9 L658.2,1152.4 L660.7,1152.8 L663.2,1153.1 L665.7,1153.4 L668.1,1153.6 L670.6,1153.7 L673.1,1153.7 L675.6,1153.5 L678.1,1153.3 L680.6,1153.0 L683.0,1152.6 L685.5,1152.1 L687.9,1151.6 L690.4,1151.1 L692.8,1150.5 L695.2,1149.9 L697.7,1149.3 L700.1,1148.7 L702.5,1148.0 L704.9,1147.3 L707.3,1146.5 L709.6,1145.7 L712.0,1144.8 L714.3,1143.9 L716.6,1142.9 L718.9,1141.9 L721.1,1140.8 L723.3,1139.6 L725.5,1138.5 L727.7,1137.3 L729.9,1136.1 L732.1,1134.8 L734.3,1133.6 L736.4,1132.3 L738.6,1131.0 L740.7,1129.6 L742.8,1128.3 L744.8,1126.9 L746.9,1125.4 L748.9,1123.9 L750.9,1122.4 L752.8,1120.9 L754.8,1119.3 L756.7,1117.7 L758.7,1116.1 L760.6,1114.5 L762.5,1112.9 L764.4,1111.3 L766.3,1109.7 L768.3,1108.1 L770.2,1106.5 L772.1,1104.9 L774.0,1103.3 L776.0,1101.7 L777.9,1100.2 L779.9,1098.6 L781.9,1097.0 L783.8,1095.5 L785.8,1094.0 L787.8,1092.5 L789.8,1091.0 L791.8,1089.5 L793.8,1088.0 L795.9,1086.5 L797.9,1085.0 L799.9,1083.5 L801.9,1082.0 L803.9,1080.5 L805.9,1079.0 L807.9,1077.5 L809.8,1076.0 L811.8,1074.4 L813.8,1072.9 L815.7,1071.3 L817.6,1069.7 L819.6,1068.1 L821.5,1066.5 L823.4,1064.9 L825.3,1063.3 L827.2,1061.6 L829.1,1060.0 L831.0,1058.4 L832.9,1056.7 L834.8,1055.0 L836.6,1053.4 L838.5,1051.7 L840.3,1050.0 L842.2,1048.3 L844.0,1046.6 L845.8,1044.9 L847.6,1043.2 L849.4,1041.4 L851.2,1039.7 L853.0,1037.9 L854.8,1036.1 L856.5,1034.4 L858.3,1032.6 L860.1,1030.8 L861.8,1029.0 L863.6,1027.2 L865.3,1025.5 L867.1,1023.7 L868.8,1021.9 L870.6,1020.1 L872.4,1018.3 L874.1,1016.6 L875.9,1014.8 L877.7,1013.0 L879.4,1011.3 L881.2,1009.5 L883.0,1007.7 L884.7,1005.9 L886.5,1004.2 L888.3,1002.4 L890.1,1000.6 L891.8,998.9 L893.6,997.1 L895.4,995.4 L897.3,993.7 L899.1,992.0 L901.0,990.3 L902.8,988.6 L904.7,987.0 L906.6,985.4 L908.5,983.8 L910.4,982.2 L912.4,980.6 L914.3,979.0 L916.3,977.5 L918.3,975.9 L920.3,974.4 L922.3,972.9 L924.3,971.4 L926.3,969.9 L928.3,968.4 L930.3,967.0 L932.4,965.5 L934.4,964.1 L936.5,962.7 L938.6,961.3 L940.6,959.9 L942.8,958.5 L944.9,957.3 L947.1,956.0 L949.3,954.9 L951.5,953.8 L953.8,952.8 L956.1,952.0 L958.5,951.2 L960.9,950.5 L963.3,949.9 L965.8,949.3 L968.2,948.9 L970.7,948.5 L973.2,948.2 L975.6,948.0 L978.1,947.8 L980.6,947.7 L983.1,947.7 L985.6,947.8 L988.1,947.9 L990.6,948.2 L993.0,948.5 L995.5,949.0 L997.9,949.7 L1000.3,950.4 L1002.6,951.2 L1004.9,952.1 L1007.2,953.1 L1009.5,954.1 L1011.7,955.3 L1014.0,956.4 L1016.2,957.6 L1018.3,958.9 L1020.5,960.2 L1022.6,961.5 L1024.7,962.9 L1026.7,964.3 L1028.8,965.7 L1030.8,967.2 L1032.8,968.6 L1034.8,970.1 L1036.8,971.7 L1038.8,973.2 L1040.8,974.7 L1042.7,976.3 L1044.7,977.9 L1046.6,979.5 L1048.5,981.1 L1050.5,982.7 L1052.4,984.3 L1054.2,985.9 L1056.1,987.6 L1058.0,989.3 L1059.8,991.0 L1061.6,992.7 L1063.4,994.4 L1065.2,996.2 L1067.0,998.0 L1068.7,999.8 L1070.4,1001.6 L1072.2,1003.4 L1073.9,1005.2 L1075.6,1007.0 L1077.3,1008.8 L1079.0,1010.7 L1080.8,1012.5 L1082.5,1014.3 L1084.2,1016.1 L1086.0,1017.9 L1087.7,1019.7 L1089.5,1021.5 L1091.2,1023.2 L1093.0,1025.0 L1094.8,1026.8 L1096.6,1028.5 L1098.3,1030.3 L1100.1,1032.1 L1101.9,1033.8 L1103.7,1035.6 L1105.5,1037.3 L1107.3,1039.1 L1109.1,1040.8 L1110.9,1042.5 L1112.7,1044.3 L1114.5,1046.0 L1116.4,1047.6 L1118.2,1049.3 L1120.1,1051.0 L1122.0,1052.6 L1123.9,1054.3 L1125.8,1055.9 L1127.7,1057.5 L1129.6,1059.2 L1131.5,1060.8 L1133.4,1062.4 L1135.4,1064.0 L1137.3,1065.5 L1139.3,1067.1 L1141.2,1068.6 L1143.2,1070.1 L1145.2,1071.6 L1147.3,1073.1 L1149.3,1074.6 L1151.4,1076.0 L1153.4,1077.4 L1155.5,1078.7 L1157.6,1080.1 L1159.8,1081.4 L1161.9,1082.6 L1164.1,1083.9 L1166.3,1085.1 L1168.5,1086.3 L1170.7,1087.4 L1173.0,1088.5 L1175.2,1089.6 L1177.5,1090.7 L1179.8,1091.7 L1182.1,1092.7 L1184.4,1093.7 L1186.7,1094.7 L1189.0,1095.7 L1191.3,1096.6 L1193.6,1097.6 L1195.9,1098.5 L1198.3,1099.4 L1200.6,1100.3 L1202.9,1101.2 L1205.3,1102.1 L1207.6,1102.9 L1210.0,1103.7 L1212.4,1104.6 L1214.7,1105.4 L1217.1,1106.2 L1219.5,1107.0 L1221.9,1107.8 L1224.2,1108.5 L1226.6,1109.3 L1229.0,1110.0 L1231.4,1110.7 L1233.8,1111.4 L1236.2,1112.1 L1238.7,1112.7 L1241.1,1113.3 L1243.5,1113.9 L1245.9,1114.5 L1248.4,1115.0 L1250.8,1115.6 L1253.3,1116.1 L1255.7,1116.6 L1258.2,1117.0 L1260.7,1117.5 L1263.1,1117.9 L1265.6,1118.3 L1268.1,1118.8 L1270.5,1119.2 L1273.0,1119.6 L1275.5,1120.0 L1277.9,1120.4 L1280.4,1120.8 L1282.9,1121.2 L1285.3,1121.6 L1287.8,1122.0 L1290.3,1122.4 L1292.8,1122.8 L1295.2,1123.2 L1297.7,1123.6 L1300.2,1124.0 L1302.7,1124.4 L1305.1,1124.7 L1307.6,1125.1 L1310.1,1125.4 L1312.6,1125.8 L1315.0,1126.1 L1317.5,1126.4 L1320.0,1126.7 L1322.5,1127.1 L1325.0,1127.4 L1327.5,1127.6 L1330.0,1127.9 L1332.4,1128.2 L1334.9,1128.5 L1337.4,1128.7 L1339.9,1129.0 L1342.4,1129.2 L1344.9,1129.4 L1347.4,1129.7 L1349.9,1129.9 L1352.4,1130.1 L1354.9,1130.3 L1357.4,1130.6 L1359.9,1130.8 L1362.3,1131.0 L1364.8,1131.2 L1367.3,1131.5 L1369.8,1131.7 L1372.3,1132.0 L1374.8,1132.2 L1377.3,1132.4 L1379.8,1132.7 L1382.3,1132.9 L1384.8,1133.2 L1387.3,1133.4 L1389.8,1133.6 L1392.2,1133.9 L1394.7,1134.1 L1397.2,1134.4 L1399.7,1134.6 L1402.2,1134.8 L1404.7,1135.1 L1407.2,1135.3 L1409.7,1135.6 L1412.2,1135.8 L1414.7,1136.0 L1417.2,1136.3 L1419.7,1136.5 L1422.1,1136.7 L1424.6,1137.0 L1427.1,1137.2 L1429.6,1137.4 L1432.1,1137.7 L1434.6,1137.9 L1437.1,1138.1 L1439.6,1138.4 L1442.1,1138.6 L1444.6,1138.8 L1447.1,1139.1 L1449.6,1139.3 L1452.1,1139.5 L1454.5,1139.8 L1457.0,1140.0 L1459.5,1140.3 L1462.0,1140.5 L1464.5,1140.7 L1467.0,1141.0 L1469.5,1141.2 L1472.0,1141.4 L1474.5,1141.7 L1477.0,1141.9 L1479.5,1142.2 L1482.0,1142.4 L1484.4,1142.6 L1486.9,1142.9 L1489.4,1143.1 L1491.9,1143.4 L1494.4,1143.6 L1496.9,1143.9 L1499.4,1144.1 L1501.9,1144.4 L1504.4,1144.6 L1506.9,1144.9 L1509.4,1145.2 L1511.8,1145.4 L1514.3,1145.7 L1516.8,1145.9 L1519.3,1146.2 L1521.8,1146.5 L1524.3,1146.7 L1526.8,1147.0 L1529.3,1147.3 L1531.8,1147.5 L1534.2,1147.8 L1536.7,1148.1 L1539.2,1148.3 L1541.7,1148.6 L1544.2,1148.8 L1546.7,1149.1 L1549.2,1149.4 L1551.7,1149.6 L1554.2,1149.9 L1556.6,1150.2 L1559.1,1150.4 L1561.6,1150.7 L1564.1,1150.9 L1566.6,1151.2 L1569.1,1151.5 L1571.6,1151.7 L1574.1,1152.0 L1576.6,1152.3 L1579.1,1152.5 L1581.5,1152.8 L1584.0,1153.1 L1586.5,1153.3 L1589.0,1153.6 L1591.5,1153.9 L1594.0,1154.1 L1596.5,1154.4 L1599.0,1154.7 L1601.5,1154.9 L1603.9,1155.2 L1606.4,1155.5 L1608.9,1155.7 L1611.4,1156.0 L1613.9,1156.3 L1616.4,1156.5 L1618.9,1156.8 L1621.4,1157.1 L1623.8,1157.3 L1626.3,1157.6 L1628.8,1157.9 L1631.3,1158.2 L1633.8,1158.4 L1636.3,1158.7 L1638.8,1158.9 L1641.3,1159.2 L1643.8,1159.5 L1646.2,1159.7 L1648.7,1160.0 L1651.2,1160.3 L1653.7,1160.5 L1656.2,1160.8 L1658.7,1161.1 L1661.2,1161.3 L1663.7,1161.6 L1666.2,1161.8 L1668.7,1162.1 L1671.1,1162.4 L1673.6,1162.6 L1676.1,1162.9 L1678.6,1163.1 L1681.1,1163.4 L1683.6,1163.6 L1686.1,1163.9 L1688.6,1164.1 L1691.1,1164.4 L1693.6,1164.6 L1696.1,1164.8 L1698.5,1165.1 L1701.0,1165.3 L1703.5,1165.6 L1706.0,1165.8 L1708.5,1166.1 L1711.0,1166.3"/>
<path stroke="#800080" stroke-width="8.0" stroke-linecap="round" d="M279.0,730.0 L279.4,732.5 L279.8,734.9 L280.3,737.4 L280.8,739.8 L281.3,742.3 L281.9,744.7 L282.5,747.1 L283.1,749.6 L283.7,752.0 L284.3,754.4 L284.9,756.9 L285.5,759.3 L286.0,761.7 L286.6,764.2 L287.1,766.6 L287.7,769.0 L288.2,771.5 L288.7,773.9 L289.2,776.4 L289.7,778.8 L290.1,781.3 L290.6,783.8 L291.1,786.2 L291.6,788.7 L292.1,791.1 L292.6,793.6 L293.1,796.0 L293.6,798.5 L294.1,800.9 L294.7,803.3 L295.3,805.8 L295.8,808.2 L296.4,810.6 L297.0,813.1 L297.7,815.5 L298.3,817.9 L298.9,820.3 L299.5,822.8 L300.1,825.2 L300.7,827.6 L301.3,830.0 L301.9,832.5 L302.5,834.9 L303.1,837.3 L303.7,839.8 L304.3,842.2 L304.9,844.6 L305.5,847.1 L306.1,849.5 L306.6,851.9 L307.2,854.4 L307.8,856.8 L308.4,859.2 L308.9,861.7 L309.5,864.1 L310.1,866.5 L310.6,869.0 L311.2,871.4 L311.7,873.9 L312.2,876.3 L312.8,878.7 L313.3,881.2 L313.8,883.6 L314.4,886.1 L314.9,888.5 L315.4,891.0 L316.0,893.4 L316.6,895.8 L317.1,898.3 L317.7,900.7 L318.3,903.1 L318.9,905.6 L319.6,908.0 L320.2,910.4 L320.8,912.8 L321.5,915.2 L322.2,917.6 L322.9,920.0 L323.5,922.4 L324.3,924.8 L325.0,927.2 L325.7,929.6 L326.5,932.0 L327.3,934.4 L328.1,936.7 L328.9,939.1 L329.8,941.4 L330.7,943.8 L331.6,946.1 L332.5,948.4 L333.5,950.7 L334.5,953.0 L335.6,955.3 L336.6,957.6 L337.7,959.8 L338.8,962.1 L339.9,964.3 L341.1,966.5 L342.3,968.7 L343.5,970.8 L344.8,973.0 L346.2,975.1 L347.6,977.1 L349.1,979.2 L350.6,981.2 L352.1,983.1 L353.7,985.0 L355.4,986.8 L357.2,988.6 L359.0,990.3 L360.9,992.0 L362.8,993.5 L364.8,995.1 L366.8,996.5 L368.8,997.9 L371.0,999.3 L373.1,1000.5 L375.3,1001.6 L377.6,1002.7 L379.9,1003.7 L382.2,1004.6 L384.6,1005.4 L386.9,1006.2 L389.3,1006.9 L391.7,1007.6 L394.1,1008.3 L396.5,1008.9 L399.0,1009.5 L401.4,1010.1 L403.8,1010.6 L406.3,1011.1 L408.8,1011.6 L411.2,1012.0 L413.7,1012.4 L416.2,1012.7 L418.6,1013.0 L421.1,1013.3 L423.6,1013.6 L426.1,1013.8 L428.6,1014.1 L431.1,1014.5 L433.5,1014.8 L436.0,1015.3 L438.4,1015.8 L440.9,1016.3 L443.3,1016.9 L445.7,1017.6 L448.1,1018.3 L450.4,1019.1 L452.8,1020.0 L455.1,1020.9 L457.4,1021.9 L459.6,1023.0 L461.8,1024.2 L464.0,1025.4 L466.1,1026.7 L468.3,1028.0 L470.3,1029.4 L472.4,1030.8 L474.4,1032.3 L476.4,1033.7 L478.4,1035.3 L480.4,1036.8 L482.4,1038.3 L484.3,1039.9 L486.2,1041.5 L488.2,1043.1 L490.0,1044.8 L491.9,1046.4 L493.8,1048.1 L495.6,1049.8 L497.4,1051.5 L499.2,1053.2 L501.0,1055.0 L502.9,1056.6 L504.7,1058.3 L506.6,1060.0 L508.5,1061.6 L510.4,1063.2 L512.4,1064.8 L514.3,1066.4 L516.3,1067.9 L518.3,1069.4 L520.3,1070.9 L522.3,1072.4 L524.3,1073.9 L526.4,1075.3 L528.4,1076.7 L530.5,1078.1 L532.6,1079.4 L534.7,1080.8 L536.8,1082.2 L538.9,1083.6 L541.0,1085.0 L543.0,1086.3 L545.1,1087.7 L547.2,1089.1 L549.3,1090.5 L551.4,1091.9 L553.5,1093.3 L555.5,1094.7 L557.6,1096.0 L559.7,1097.4 L561.8,1098.8 L563.9,1100.2 L565.9,1101.6 L568.0,1103.0 L570.1,1104.4 L572.2,1105.8 L574.3,1107.1 L576.4,1108.5 L578.5,1109.9 L580.6,1111.2 L582.7,1112.5 L584.8,1113.8 L587.0,1115.1 L589.2,1116.3 L591.4,1117.5 L593.6,1118.7 L595.8,1119.8 L598.0,1121.0 L600.3,1122.1 L602.5,1123.2 L604.8,1124.3 L607.0,1125.4 L609.3,1126.4 L611.5,1127.5 L613.8,1128.5 L616.1,1129.5 L618.4,1130.5 L620.7,1131.5 L623.0,1132.4 L625.4,1133.2 L627.7,1134.0 L630.1,1134.8 L632.5,1135.5 L634.9,1136.2 L637.3,1136.9 L639.7,1137.5 L642.2,1138.1 L644.6,1138.7 L647.0,1139.3 L649.5,1139.8 L651.9,1140.2 L654.4,1140.6 L656.9,1141.0 L659.4,1141.3 L661.8,1141.6 L664.3,1141.8 L666.8,1142.0 L669.3,1142.1 L671.8,1142.1 L674.3,1142.1 L676.8,1142.0 L679.3,1141.9 L681.8,1141.7 L684.3,1141.4 L686.7,1141.1 L689.2,1140.7 L691.6,1140.2 L694.0,1139.6 L696.4,1138.8 L698.7,1138.0 L701.1,1137.1 L703.4,1136.1 L705.6,1135.1 L707.9,1134.1 L710.1,1133.0 L712.3,1131.8 L714.5,1130.5 L716.6,1129.2 L718.7,1127.9 L720.8,1126.5 L722.9,1125.1 L724.9,1123.6 L726.9,1122.1 L728.8,1120.5 L730.8,1119.0 L732.7,1117.3 L734.5,1115.7 L736.4,1114.0 L738.2,1112.3 L740.0,1110.6 L741.8,1108.8 L743.6,1107.1 L745.4,1105.3 L747.2,1103.6 L749.0,1101.8 L750.8,1100.1 L752.6,1098.4 L754.3,1096.6 L756.1,1094.8 L757.7,1093.0 L759.4,1091.1 L761.0,1089.2 L762.5,1087.2 L764.1,1085.3 L765.7,1083.3 L767.3,1081.4 L768.8,1079.4 L770.3,1077.5 L771.8,1075.5 L773.2,1073.4 L774.6,1071.3 L776.0,1069.2 L777.3,1067.1 L778.7,1065.0 L780.0,1062.9 L781.3,1060.8 L782.6,1058.6 L783.9,1056.5 L785.3,1054.4 L786.6,1052.3 L788.0,1050.2 L789.4,1048.2 L790.9,1046.1 L792.3,1044.1 L793.8,1042.0 L795.3,1040.0 L796.7,1038.0 L798.2,1036.0 L799.6,1033.9 L801.1,1031.9 L802.5,1029.8 L803.8,1027.7 L805.2,1025.6 L806.5,1023.5 L807.8,1021.3 L809.0,1019.2 L810.3,1017.0 L811.5,1014.9 L812.8,1012.7 L814.0,1010.5 L815.2,1008.3 L816.4,1006.1 L817.6,1003.9 L818.8,1001.7 L820.1,999.6 L821.3,997.4 L822.5,995.2 L823.8,993.1 L825.1,990.9 L826.4,988.8 L827.7,986.6 L829.1,984.6 L830.4,982.5 L831.9,980.4 L833.3,978.4 L834.8,976.4 L836.3,974.3 L837.8,972.3 L839.2,970.3 L840.7,968.3 L842.2,966.3 L843.6,964.2 L845.0,962.2 L846.4,960.1 L847.7,957.9 L849.0,955.8 L850.3,953.7 L851.5,951.5 L852.7,949.3 L853.9,947.1 L855.1,944.9 L856.2,942.7 L857.4,940.5 L858.6,938.3 L859.8,936.1 L861.0,933.9 L862.2,931.7 L863.5,929.5 L864.8,927.4 L866.0,925.2 L867.4,923.1 L868.7,921.0 L870.0,918.9 L871.4,916.8 L872.7,914.7 L874.1,912.6 L875.5,910.5 L876.8,908.4 L878.3,906.3 L879.7,904.3 L881.1,902.2 L882.5,900.2 L884.0,898.1 L885.5,896.1 L887.0,894.1 L888.5,892.1 L890.0,890.1 L891.6,888.2 L893.1,886.2 L894.7,884.3 L896.3,882.4 L897.9,880.4 L899.5,878.5 L901.2,876.7 L902.8,874.8 L904.5,872.9 L906.2,871.1 L907.8,869.2 L909.5,867.4 L911.3,865.5 L913.0,863.7 L914.7,861.9 L916.5,860.1 L918.2,858.4 L920.0,856.6 L921.8,854.9 L923.7,853.2 L925.5,851.5 L927.4,849.9 L929.3,848.2 L931.2,846.7 L933.2,845.1 L935.1,843.6 L937.2,842.1 L939.2,840.6 L941.3,839.2 L943.4,837.9 L945.5,836.6 L947.7,835.4 L949.9,834.3 L952.2,833.2 L954.5,832.2 L956.8,831.4 L959.1,830.6 L961.5,829.9 L964.0,829.3 L966.4,828.9 L968.9,828.6 L971.3,828.5 L973.8,828.5 L976.3,828.6 L978.7,828.9 L981.2,829.4 L983.6,829.9 L986.0,830.6 L988.3,831.4 L990.6,832.3 L992.9,833.4 L995.1,834.5 L997.3,835.7 L999.4,837.0 L1001.5,838.4 L1003.5,839.8 L1005.5,841.3 L1007.5,842.9 L1009.4,844.5 L1011.3,846.1 L1013.1,847.8 L1015.0,849.5 L1016.7,851.3 L1018.5,853.0 L1020.2,854.8 L1021.9,856.7 L1023.6,858.5 L1025.3,860.4 L1026.9,862.3 L1028.5,864.2 L1030.1,866.1 L1031.8,868.0 L1033.3,869.9 L1034.9,871.9 L1036.5,873.8 L1038.1,875.8 L1039.6,877.7 L1041.1,879.7 L1042.7,881.7 L1044.2,883.7 L1045.7,885.7 L1047.2,887.7 L1048.7,889.7 L1050.2,891.7 L1051.7,893.7 L1053.2,895.7 L1054.7,897.7 L1056.2,899.7 L1057.7,901.7 L1059.2,903.7 L1060.7,905.7 L1062.2,907.7 L1063.7,909.7 L1065.2,911.7 L1066.7,913.7 L1068.1,915.8 L1069.5,917.8 L1070.9,919.9 L1072.2,922.0 L1073.5,924.2 L1074.7,926.3 L1075.9,928.5 L1077.1,930.7 L1078.3,932.9 L1079.5,935.1 L1080.8,937.3 L1082.1,939.4 L1083.4,941.5 L1084.8,943.6 L1086.1,945.7 L1087.5,947.8 L1088.9,949.9 L1090.3,952.0 L1091.7,954.0 L1093.1,956.1 L1094.5,958.2 L1095.9,960.3 L1097.3,962.3 L1098.7,964.4 L1100.1,966.5 L1101.5,968.6 L1102.9,970.6 L1104.2,972.7 L1105.6,974.8 L1107.0,976.9 L1108.4,979.0 L1109.8,981.1 L1111.2,983.1 L1112.6,985.2 L1113.9,987.3 L1115.3,989.4 L1116.7,991.5 L1118.1,993.5 L1119.5,995.6 L1120.9,997.7 L1122.3,999.8 L1123.6,1001.9 L1125.0,1004.0 L1126.4,1006.0 L1127.8,1008.1 L1129.2,1010.2 L1130.6,1012.3 L1131.9,1014.4 L1133.3,1016.5 L1134.7,1018.5 L1136.1,1020.6 L1137.5,1022.7 L1138.9,1024.8 L1140.3,1026.9 L1141.7,1028.9 L1143.1,1031.0 L1144.5,1033.1 L1145.9,1035.1 L1147.4,1037.2 L1148.8,1039.2 L1150.2,1041.3 L1151.6,1043.3 L1153.1,1045.4 L1154.5,1047.4 L1156.0,1049.5 L1157.4,1051.5 L1158.9,1053.5 L1160.3,1055.6 L1161.8,1057.6 L1163.3,1059.6 L1164.8,1061.6 L1166.3,1063.6 L1167.9,1065.6 L1169.4,1067.5 L1170.9,1069.5 L1172.5,1071.5 L1174.0,1073.4 L1175.6,1075.4 L1177.2,1077.3 L1178.7,1079.3 L1180.3,1081.2 L1181.9,1083.1 L1183.5,1085.1 L1185.1,1087.0 L1186.7,1088.9 L1188.4,1090.8 L1190.0,1092.7 L1191.7,1094.5 L1193.4,1096.3 L1195.2,1098.1 L1196.9,1099.9 L1198.7,1101.6 L1200.5,1103.3 L1202.4,1105.1 L1204.2,1106.8 L1206.0,1108.5 L1207.8,1110.2 L1209.7,1111.9 L1211.5,1113.6 L1213.4,1115.2 L1215.3,1116.8 L1217.3,1118.3 L1219.3,1119.9 L1221.3,1121.4 L1223.3,1122.8 L1225.3,1124.3 L1227.3,1125.8 L1229.4,1127.2 L1231.4,1128.7 L1233.4,1130.2 L1235.4,1131.7 L1237.5,1133.1 L1239.5,1134.6 L1241.6,1136.0 L1243.6,1137.4 L1245.7,1138.8 L1247.8,1140.2 L1249.8,1141.6 L1251.9,1143.0 L1254.0,1144.4 L1256.1,1145.8 L1258.1,1147.2 L1260.2,1148.6 L1262.2,1150.1 L1264.3,1151.5 L1266.3,1152.9 L1268.4,1154.4 L1270.4,1155.8 L1272.4,1157.3 L1274.5,1158.8 L1276.5,1160.2 L1278.5,1161.6 L1280.6,1163.0 L1282.7,1164.4 L1284.8,1165.7 L1287.0,1167.0 L1289.2,1168.2 L1291.4,1169.4 L1293.6,1170.6 L1295.8,1171.8 L1298.0,1172.9 L1300.2,1174.1 L1302.4,1175.3 L1304.6,1176.4 L1306.8,1177.6 L1309.1,1178.6 L1311.4,1179.7 L1313.6,1180.7 L1315.9,1181.7 L1318.3,1182.6 L1320.6,1183.5 L1322.9,1184.4 L1325.3,1185.3 L1327.6,1186.2 L1330.0,1187.0 L1332.3,1187.9 L1334.7,1188.7 L1337.0,1189.5 L1339.4,1190.3 L1341.8,1191.1 L1344.2,1191.9 L1346.6,1192.6 L1348.9,1193.3 L1351.3,1194.1 L1353.7,1194.8 L1356.1,1195.5 L1358.5,1196.2 L1361.0,1196.8 L1363.4,1197.5 L1365.8,1198.1 L1368.2,1198.7 L1370.6,1199.3 L1373.1,1199.9 L1375.5,1200.5 L1378.0,1201.0 L1380.4,1201.5 L1382.8,1202.0 L1385.3,1202.5 L1387.8,1203.0 L1390.2,1203.5 L1392.7,1204.0 L1395.1,1204.5 L1397.6,1204.9 L1400.0,1205.4 L1402.5,1205.9 L1404.9,1206.4 L1407.4,1206.9 L1409.8,1207.4 L1412.3,1207.8 L1414.8,1208.3 L1417.2,1208.7 L1419.7,1209.1 L1422.2,1209.5 L1424.6,1209.9 L1427.1,1210.3 L1429.6,1210.8 L1432.0,1211.2 L1434.5,1211.6 L1436.9,1212.1 L1439.4,1212.5 L1441.9,1212.9 L1444.3,1213.4 L1446.8,1213.8 L1449.3,1214.3 L1451.7,1214.7 L1454.2,1215.2 L1456.6,1215.6 L1459.1,1216.0 L1461.6,1216.5 L1464.0,1216.9 L1466.5,1217.3 L1469.0,1217.7 L1471.4,1218.1 L1473.9,1218.5 L1476.4,1218.9 L1478.9,1219.2 L1481.3,1219.6 L1483.8,1219.9 L1486.3,1220.3 L1488.8,1220.6 L1491.2,1221.0 L1493.7,1221.3 L1496.2,1221.6 L1498.7,1221.9 L1501.2,1222.2 L1503.7,1222.5 L1506.1,1222.8 L1508.6,1223.0 L1511.1,1223.3 L1513.6,1223.6 L1516.1,1223.8 L1518.6,1224.0 L1521.1,1224.3 L1523.6,1224.5 L1526.1,1224.7 L1528.5,1224.9 L1531.0,1225.1 L1533.5,1225.3 L1536.0,1225.5 L1538.5,1225.7 L1541.0,1225.8 L1543.5,1226.0 L1546.0,1226.2 L1548.5,1226.3 L1551.0,1226.5 L1553.5,1226.7 L1556.0,1226.8 L1558.5,1227.0 L1561.0,1227.1 L1563.5,1227.3 L1566.0,1227.4 L1568.5,1227.6 L1571.0,1227.7 L1573.5,1227.8 L1576.0,1228.0 L1578.5,1228.1 L1581.0,1228.2 L1583.5,1228.3 L1586.0,1228.5 L1588.5,1228.6 L1591.0,1228.7 L1593.5,1228.8 L1596.0,1228.9 L1598.5,1229.0 L1601.0,1229.1 L1603.5,1229.2 L1606.0,1229.2 L1608.5,1229.3 L1611.0,1229.4 L1613.5,1229.5 L1616.0,1229.5 L1618.5,1229.6 L1621.0,1229.6 L1623.5,1229.7 L1626.0,1229.7 L1628.5,1229.8 L1631.0,1229.8 L1633.5,1229.9 L1636.0,1229.9 L1638.5,1230.0 L1641.0,1230.0 L1643.5,1230.1 L1646.0,1230.1 L1648.5,1230.1 L1651.0,1230.2 L1653.5,1230.2 L1656.0,1230.2 L1658.5,1230.3 L1661.0,1230.3 L1663.5,1230.4 L1666.0,1230.4 L1668.5,1230.4 L1671.0,1230.5 L1673.5,1230.5 L1676.0,1230.5 L1678.5,1230.6 L1681.0,1230.6 L1683.5,1230.6 L1686.0,1230.7 L1688.5,1230.7 L1691.0,1230.7 L1693.5,1230.8 L1696.0,1230.8 L1698.5,1230.8 L1701.0,1230.9 L1703.5,1230.9 L1706.0,1230.9 L1708.5,1231.0 L1711.0,1231.0"/>
<path stroke="#000000" stroke-width="8.0" stroke-linecap="round" d="M228.3,763.5 L228.8,766.0 L229.2,768.4 L229.7,770.9 L230.1,773.3 L230.5,775.8 L230.8,778.3 L231.2,780.7 L231.6,783.2 L232.0,785.7 L232.5,788.1 L233.0,790.6 L233.5,793.0 L234.1,795.4 L234.7,797.9 L235.3,800.3 L235.9,802.7 L236.5,805.1 L237.1,807.6 L237.7,810.0 L238.2,812.5 L238.7,814.9 L239.2,817.4 L239.7,819.8 L240.2,822.3 L240.6,824.7 L241.1,827.2 L241.6,829.6 L242.2,832.1 L242.7,834.5 L243.3,836.9 L243.8,839.4 L244.4,841.8 L245.1,844.2 L245.7,846.6 L246.4,849.0 L247.0,851.5 L247.7,853.9 L248.4,856.3 L249.0,858.7 L249.7,861.1 L250.4,863.5 L251.1,865.9 L251.8,868.3 L252.5,870.7 L253.3,873.1 L254.0,875.5 L254.7,877.8 L255.5,880.2 L256.3,882.6 L257.0,885.0 L257.8,887.4 L258.6,889.7 L259.3,892.1 L260.1,894.5 L260.9,896.9 L261.7,899.2 L262.5,901.6 L263.3,904.0 L264.1,906.4 L264.9,908.7 L265.7,911.1 L266.5,913.5 L267.2,915.8 L268.0,918.2 L268.8,920.6 L269.6,923.0 L270.4,925.3 L271.2,927.7 L272.0,930.1 L272.8,932.4 L273.6,934.8 L274.4,937.2 L275.2,939.6 L275.9,941.9 L276.7,944.3 L277.5,946.7 L278.3,949.0 L279.1,951.4 L279.9,953.8 L280.7,956.2 L281.5,958.5 L282.3,960.9 L283.1,963.3 L283.9,965.6 L284.7,968.0 L285.4,970.4 L286.2,972.8 L287.0,975.1 L287.8,977.5 L288.5,979.9 L289.3,982.3 L290.1,984.6 L290.9,987.0 L291.7,989.4 L292.5,991.7 L293.3,994.1 L294.2,996.5 L295.0,998.8 L295.9,1001.2 L296.7,1003.5 L297.6,1005.9 L298.5,1008.2 L299.4,1010.5 L300.3,1012.9 L301.2,1015.2 L302.1,1017.5 L303.0,1019.8 L304.0,1022.2 L304.9,1024.5 L305.9,1026.8 L306.9,1029.1 L307.8,1031.4 L308.8,1033.7 L309.8,1036.0 L310.9,1038.2 L311.9,1040.5 L312.9,1042.8 L314.0,1045.1 L315.1,1047.3 L316.2,1049.6 L317.3,1051.8 L318.4,1054.0 L319.6,1056.2 L320.8,1058.4 L322.0,1060.6 L323.2,1062.8 L324.5,1064.9 L325.8,1067.1 L327.1,1069.2 L328.5,1071.3 L329.8,1073.4 L331.2,1075.5 L332.7,1077.5 L334.1,1079.5 L335.6,1081.5 L337.1,1083.5 L338.7,1085.5 L340.3,1087.4 L341.9,1089.3 L343.5,1091.2 L345.2,1093.1 L346.9,1094.9 L348.6,1096.7 L350.4,1098.5 L352.2,1100.2 L354.0,1101.9 L355.8,1103.6 L357.6,1105.3 L359.5,1107.0 L361.4,1108.6 L363.4,1110.2 L365.4,1111.7 L367.4,1113.1 L369.4,1114.5 L371.5,1115.9 L373.7,1117.1 L375.9,1118.3 L378.1,1119.4 L380.4,1120.3 L382.7,1121.2 L385.1,1121.9 L387.5,1122.5 L389.9,1122.8 L392.4,1123.0 L394.9,1123.1 L397.3,1122.9 L399.8,1122.7 L402.2,1122.3 L404.7,1121.8 L407.1,1121.2 L409.5,1120.5 L411.9,1119.8 L414.2,1118.9 L416.5,1118.0 L418.8,1117.0 L421.1,1116.0 L423.3,1114.8 L425.5,1113.6 L427.6,1112.3 L429.7,1111.0 L431.7,1109.5 L433.8,1108.1 L435.8,1106.6 L437.8,1105.1 L439.8,1103.7 L441.8,1102.2 L443.9,1100.7 L445.9,1099.3 L447.9,1097.8 L449.9,1096.3 L451.9,1094.8 L453.9,1093.3 L455.8,1091.7 L457.8,1090.2 L459.8,1088.7 L461.9,1087.3 L463.9,1085.9 L466.1,1084.6 L468.2,1083.6 L470.5,1082.7 L472.8,1082.0 L475.2,1081.6 L477.6,1081.5 L480.0,1081.7 L482.3,1082.2 L484.6,1083.0 L486.8,1084.0 L488.9,1085.2 L490.9,1086.6 L492.8,1088.2 L494.5,1090.0 L496.1,1091.8 L497.6,1093.8 L499.0,1095.8 L500.4,1097.9 L501.6,1100.1 L502.9,1102.2 L504.1,1104.4 L505.3,1106.6 L506.5,1108.8 L507.7,1111.0 L508.9,1113.2 L510.0,1115.4 L511.2,1117.6 L512.4,1119.8 L513.6,1122.0 L514.8,1124.2 L515.9,1126.4 L517.1,1128.7 L518.2,1130.9 L519.4,1133.1 L520.5,1135.3 L521.6,1137.6 L522.8,1139.8 L523.9,1142.0 L525.1,1144.2 L526.3,1146.4 L527.6,1148.5 L529.0,1150.6 L530.3,1152.7 L531.8,1154.7 L533.3,1156.7 L534.8,1158.7 L536.4,1160.6 L538.1,1162.5 L539.8,1164.3 L541.5,1166.1 L543.2,1167.9 L545.0,1169.7 L546.8,1171.4 L548.7,1173.0 L550.6,1174.6 L552.6,1176.1 L554.6,1177.5 L556.7,1178.8 L558.9,1180.0 L561.1,1181.2 L563.4,1182.2 L565.7,1183.1 L568.0,1183.9 L570.4,1184.7 L572.8,1185.4 L575.2,1185.9 L577.7,1186.4 L580.1,1186.8 L582.6,1187.1 L585.1,1187.4 L587.6,1187.5 L590.1,1187.5 L592.6,1187.5 L595.1,1187.4 L597.5,1187.3 L600.0,1187.1 L602.5,1186.9 L605.0,1186.6 L607.5,1186.2 L609.9,1185.9 L612.4,1185.5 L614.9,1185.0 L617.3,1184.6 L619.8,1184.1 L622.2,1183.5 L624.6,1182.9 L627.0,1182.2 L629.3,1181.5 L631.7,1180.8 L634.0,1180.3 L636.4,1179.8 L638.8,1179.6 L641.3,1179.4 L643.7,1179.2 L646.2,1179.0 L648.7,1178.7 L651.1,1178.3 L653.6,1177.8 L656.0,1177.2 L658.4,1176.7 L660.8,1176.1 L663.3,1175.6 L665.7,1175.1 L668.2,1174.7 L670.7,1174.4 L673.2,1174.1 L675.6,1173.9 L678.1,1173.8 L680.6,1173.6 L683.1,1173.5 L685.6,1173.4 L688.1,1173.3 L690.6,1173.2 L693.1,1173.1 L695.6,1173.0 L698.1,1172.9 L700.6,1172.7 L703.1,1172.6 L705.6,1172.5 L708.1,1172.3 L710.6,1172.2 L713.1,1172.1 L715.6,1172.0 L718.1,1171.9 L720.6,1171.9 L723.1,1171.8 L725.6,1171.8 L728.1,1171.8 L730.6,1171.9 L733.1,1171.9 L735.6,1171.9 L738.1,1172.0 L740.6,1172.0 L743.1,1172.1 L745.6,1172.1 L748.1,1172.2 L750.6,1172.2 L753.1,1172.3 L755.6,1172.3 L758.1,1172.4 L760.6,1172.4 L763.1,1172.5 L765.6,1172.6 L768.1,1172.6 L770.6,1172.7 L773.1,1172.7 L775.6,1172.6 L778.1,1172.5 L780.5,1172.3 L783.0,1172.1 L785.5,1171.8 L788.0,1171.5 L790.5,1171.2 L793.0,1170.9 L795.4,1170.5 L797.9,1170.2 L800.4,1169.8 L802.9,1169.4 L805.3,1169.0 L807.8,1168.6 L810.3,1168.2 L812.7,1167.8 L815.2,1167.4 L817.6,1166.9 L820.1,1166.5 L822.6,1166.0 L825.0,1165.6 L827.5,1165.1 L829.9,1164.6 L832.4,1164.1 L834.8,1163.6 L837.3,1163.0 L839.7,1162.5 L842.2,1162.0 L844.6,1161.5 L847.1,1161.0 L849.5,1160.5 L852.0,1160.1 L854.4,1159.6 L856.9,1159.1 L859.3,1158.6 L861.8,1158.1 L864.2,1157.7 L866.7,1157.2 L869.1,1156.7 L871.6,1156.3 L874.1,1155.9 L876.5,1155.5 L879.0,1155.1 L881.5,1154.7 L883.9,1154.3 L886.4,1154.0 L888.9,1153.7 L891.4,1153.4 L893.9,1153.1 L896.4,1152.8 L898.8,1152.6 L901.3,1152.3 L903.8,1152.1 L906.3,1151.8 L908.8,1151.6 L911.3,1151.4 L913.8,1151.2 L916.3,1151.1 L918.8,1150.9 L921.3,1150.8 L923.8,1150.6 L926.3,1150.5 L928.8,1150.4 L931.3,1150.4 L933.7,1150.4 L936.2,1150.4 L938.7,1150.4 L941.2,1150.4 L943.7,1150.5 L946.2,1150.6 L948.7,1150.8 L951.2,1150.9 L953.7,1151.1 L956.2,1151.4 L958.7,1151.7 L961.2,1152.0 L963.6,1152.3 L966.1,1152.7 L968.6,1153.0 L971.1,1153.5 L973.5,1153.9 L976.0,1154.4 L978.4,1154.9 L980.9,1155.4 L983.3,1156.0 L985.7,1156.5 L988.1,1157.2 L990.6,1157.8 L993.0,1158.5 L995.4,1159.2 L997.8,1159.9 L1000.1,1160.7 L1002.5,1161.5 L1004.9,1162.3 L1007.2,1163.2 L1009.5,1164.1 L1011.8,1165.0 L1014.1,1166.0 L1016.4,1167.0 L1018.7,1168.0 L1021.0,1169.1 L1023.3,1170.1 L1025.5,1171.2 L1027.8,1172.3 L1030.0,1173.3 L1032.3,1174.4 L1034.6,1175.5 L1036.8,1176.5 L1039.1,1177.6 L1041.4,1178.6 L1043.6,1179.6 L1045.9,1180.7 L1048.2,1181.7 L1050.5,1182.7 L1052.7,1183.8 L1055.0,1184.8 L1057.3,1185.8 L1059.6,1186.9 L1061.9,1187.9 L1064.1,1188.9 L1066.4,1189.9 L1068.7,1190.9 L1071.0,1191.9 L1073.3,1192.9 L1075.6,1193.9 L1077.9,1194.8 L1080.3,1195.7 L1082.6,1196.6 L1084.9,1197.5 L1087.3,1198.4 L1089.6,1199.3 L1092.0,1200.1 L1094.3,1201.0 L1096.7,1201.8 L1099.0,1202.7 L1101.4,1203.5 L1103.7,1204.4 L1106.0,1205.2 L1108.4,1206.1 L1110.7,1207.0 L1113.1,1207.9 L1115.4,1208.7 L1117.8,1209.6 L1120.1,1210.4 L1122.5,1211.3 L1124.8,1212.1 L1127.2,1213.0 L1129.5,1213.8 L1131.9,1214.7 L1134.2,1215.5 L1136.6,1216.3 L1139.0,1217.2 L1141.3,1218.0 L1143.7,1218.8 L1146.0,1219.6 L1148.4,1220.4 L1150.8,1221.2 L1153.2,1221.9 L1155.6,1222.7 L1158.0,1223.4 L1160.4,1224.0 L1162.8,1224.7 L1165.2,1225.4 L1167.6,1226.0 L1170.0,1226.6 L1172.5,1227.2 L1174.9,1227.8 L1177.3,1228.4 L1179.8,1229.0 L1182.2,1229.5 L1184.6,1230.0 L1187.1,1230.6 L1189.5,1231.1 L1192.0,1231.5 L1194.4,1232.0 L1196.9,1232.4 L1199.4,1232.8 L1201.8,1233.2 L1204.3,1233.6 L1206.8,1234.0 L1209.3,1234.3 L1211.7,1234.7 L1214.2,1235.0 L1216.7,1235.3 L1219.2,1235.6 L1221.7,1235.9 L1224.1,1236.1 L1226.6,1236.4 L1229.1,1236.7 L1231.6,1236.9 L1234.1,1237.1 L1236.6,1237.4 L1239.1,1237.6 L1241.6,1237.8 L1244.1,1238.0 L1246.5,1238.2 L1249.0,1238.4 L1251.5,1238.6 L1254.0,1238.8 L1256.5,1238.9 L1259.0,1239.1 L1261.5,1239.2 L1264.0,1239.4 L1266.5,1239.5 L1269.0,1239.6 L1271.5,1239.7 L1274.0,1239.8 L1276.5,1239.9 L1279.0,1240.0 L1281.5,1240.1 L1284.0,1240.1 L1286.5,1240.2 L1289.0,1240.3 L1291.5,1240.3 L1294.0,1240.4 L1296.5,1240.4 L1299.0,1240.5 L1301.5,1240.5 L1304.0,1240.6 L1306.5,1240.6 L1309.0,1240.7 L1311.5,1240.7 L1314.0,1240.8 L1316.5,1240.8 L1319.0,1240.9 L1321.5,1240.9 L1324.0,1241.0 L1326.5,1241.0 L1329.0,1241.0 L1331.5,1241.1 L1334.0,1241.1 L1336.5,1241.1 L1339.0,1241.1 L1341.5,1241.2 L1344.0,1241.2 L1346.5,1241.2 L1349.0,1241.2 L1351.5,1241.3 L1354.0,1241.3 L1356.5,1241.3 L1359.0,1241.3 L1361.5,1241.3 L1364.0,1241.3 L1366.5,1241.4 L1369.0,1241.4 L1371.5,1241.4 L1374.0,1241.4 L1376.5,1241.4 L1379.0,1241.4 L1381.5,1241.4 L1384.0,1241.4 L1386.5,1241.4 L1389.0,1241.5 L1391.5,1241.5 L1394.0,1241.5 L1396.5,1241.5 L1399.0,1241.5 L1401.5,1241.5 L1404.0,1241.5 L1406.5,1241.5 L1409.0,1241.5 L1411.5,1241.5 L1414.0,1241.5 L1416.5,1241.6 L1419.0,1241.6 L1421.5,1241.6 L1424.0,1241.6 L1426.5,1241.6 L1429.0,1241.6 L1431.5,1241.6 L1434.0,1241.6 L1436.5,1241.6 L1439.0,1241.6 L1441.5,1241.6 L1444.0,1241.6 L1446.5,1241.6 L1449.0,1241.6 L1451.5,1241.6 L1454.0,1241.6 L1456.5,1241.6 L1459.0,1241.7 L1461.5,1241.7 L1464.0,1241.7 L1466.5,1241.7 L1469.0,1241.7 L1471.5,1241.7 L1474.0,1241.7 L1476.5,1241.7 L1479.0,1241.7 L1481.5,1241.7 L1484.0,1241.7 L1486.5,1241.7 L1489.0,1241.7 L1491.5,1241.7 L1494.0,1241.7 L1496.5,1241.7 L1499.0,1241.7 L1501.5,1241.7 L1504.0,1241.7 L1506.5,1241.7 L1509.0,1241.7 L1511.5,1241.7 L1514.0,1241.7 L1516.5,1241.7 L1519.0,1241.8 L1521.5,1241.8 L1524.0,1241.8 L1526.5,1241.8 L1529.0,1241.8 L1531.5,1241.8 L1534.0,1241.8 L1536.5,1241.8 L1539.0,1241.8 L1541.5,1241.8 L1544.0,1241.8 L1546.5,1241.8 L1549.0,1241.8 L1551.5,1241.8 L1554.0,1241.8 L1556.5,1241.8 L1559.0,1241.8 L1561.5,1241.8 L1564.0,1241.8 L1566.5,1241.8 L1569.0,1241.8 L1571.5,1241.8 L1574.0,1241.8 L1576.5,1241.8 L1579.0,1241.8 L1581.5,1241.8 L1584.0,1241.8 L1586.5,1241.8 L1589.0,1241.8 L1591.5,1241.9 L1594.0,1241.9 L1596.5,1241.9 L1599.0,1241.9 L1601.5,1241.9 L1604.0,1241.9 L1606.5,1241.9 L1609.0,1241.9 L1611.5,1241.9 L1614.0,1241.9 L1616.5,1241.9 L1619.0,1241.9 L1621.5,1241.9 L1624.0,1241.9 L1626.5,1241.9 L1629.0,1241.9 L1631.5,1241.9 L1634.0,1241.9 L1636.5,1241.9 L1639.0,1241.9 L1641.5,1241.9 L1644.0,1241.9 L1646.5,1241.9 L1649.0,1241.9 L1651.5,1241.9 L1654.0,1241.9 L1656.5,1241.9 L1659.0,1241.9 L1661.5,1241.9 L1664.0,1241.9 L1666.5,1241.9 L1669.0,1241.9 L1671.5,1241.9 L1674.0,1242.0 L1676.5,1242.0 L1679.0,1242.0 L1681.5,1242.0 L1684.0,1242.0 L1686.5,1242.0 L1689.0,1242.0 L1691.5,1242.0 L1694.0,1242.0 L1696.5,1242.0 L1699.0,1242.0 L1701.5,1242.0 L1704.0,1242.0 L1706.5,1242.0 L1709.0,1242.0"/>
</g>
<g stroke="#000" stroke-width="2.8" fill="none" stroke-linecap="square">
<rect x="227.2" y="740.4" width="1482.7" height="503.3"/>
<line x1="213.2" y1="1243.7" x2="227.2" y2="1243.7"/>
<line x1="213.2" y1="1143.0" x2="227.2" y2="1143.0"/>
<line x1="213.2" y1="1042.4" x2="227.2" y2="1042.4"/>
<line x1="213.2" y1="941.7" x2="227.2" y2="941.7"/>
<line x1="213.2" y1="841.1" x2="227.2" y2="841.1"/>
<line x1="213.2" y1="740.4" x2="227.2" y2="740.4"/>
<line x1="220.2" y1="1193.4" x2="227.2" y2="1193.4"/>
<line x1="220.2" y1="1092.7" x2="227.2" y2="1092.7"/>
<line x1="220.2" y1="992.0" x2="227.2" y2="992.0"/>
<line x1="220.2" y1="891.4" x2="227.2" y2="891.4"/>
<line x1="220.2" y1="790.7" x2="227.2" y2="790.7"/>
<line x1="227.2" y1="1243.7" x2="227.2" y2="1256.7"/>
<line x1="597.9" y1="1243.7" x2="597.9" y2="1256.7"/>
<line x1="968.5" y1="1243.7" x2="968.5" y2="1256.7"/>
<line x1="1339.2" y1="1243.7" x2="1339.2" y2="1256.7"/>
<line x1="1709.9" y1="1243.7" x2="1709.9" y2="1256.7"/>
<line x1="412.5" y1="1243.7" x2="412.5" y2="1250.2"/>
<line x1="783.2" y1="1243.7" x2="783.2" y2="1250.2"/>
<line x1="1153.9" y1="1243.7" x2="1153.9" y2="1250.2"/>
<line x1="1524.6" y1="1243.7" x2="1524.6" y2="1250.2"/>
</g>
<g stroke-width="3.0" stroke-linecap="butt">
<line x1="970.3" y1="805.9" x2="970.3" y2="865.0" stroke="#800080"/>
<line x1="981.9" y1="914.7" x2="981.9" y2="972.9" stroke="#800080"/>
<line x1="987.4" y1="1031.0" x2="987.4" y2="1092.0" stroke="#800080"/>
</g>
<g font-size="56.0" fill="#000">
<text transform="translate(204.4,1259.2) scale(1,1.040)" text-anchor="end">0.0</text>
<text transform="translate(204.4,1158.5) scale(1,1.040)" text-anchor="end">0.3</text>
<text transform="translate(204.4,1057.9) scale(1,1.040)" text-anchor="end">0.6</text>
<text transform="translate(204.4,957.2) scale(1,1.040)" text-anchor="end">0.9</text>
<text transform="translate(204.4,856.6) scale(1,1.040)" text-anchor="end">1.2</text>
<text transform="translate(204.4,755.9) scale(1,1.040)" text-anchor="end">1.5</text>
<text transform="translate(227.2,1309.3) scale(1,1.040)" text-anchor="middle">200</text>
<text transform="translate(597.9,1309.3) scale(1,1.040)" text-anchor="middle">300</text>
<text transform="translate(968.5,1309.3) scale(1,1.040)" text-anchor="middle">400</text>
<text transform="translate(1339.2,1309.3) scale(1,1.040)" text-anchor="middle">500</text>
<text transform="translate(1709.9,1309.3) scale(1,1.040)" text-anchor="middle">600</text>
</g>
<text transform="translate(968.5,1382.0) scale(1,1.015)" font-size="56.0" text-anchor="middle">Wavelength (nm)</text>
<text transform="translate(67.5,1001.2) rotate(-90) scale(1,1.030)" font-size="56.0" text-anchor="middle">Abs</text>
<text class="b" transform="translate(302.6,821.7) scale(1,0.985)" font-size="74.1" fill="#000">(b)</text>
<text class="b" transform="translate(377.0,969.9) scale(1,1.020)" font-size="56.2" fill="#800080">Rutin-Ag</text>
<text class="b" transform="translate(620.3,901.7) scale(1,1.020)" font-size="55.4" fill="#000">pH value</text>
<text class="b" transform="translate(242.1,1218.8) scale(1,1.020)" font-size="55.7" fill="#000">Rutin</text>
<text class="b" transform="translate(997.1,822.8) scale(1,1.030)" font-size="43.7" fill="#800080">401 nm</text>
<text class="b" transform="translate(1011.9,948.6) scale(1,1.030)" font-size="43.7" fill="#800080">403 nm</text>
<text class="b" transform="translate(959.5,1135.0) scale(1,1.030)" font-size="43.7" fill="#800080">406 nm</text>
<text class="b" transform="translate(868.2,851.3) scale(1,1.040)" font-size="42.9" fill="#000">10</text>
<text class="b" transform="translate(882.2,952.8) scale(1,1.040)" font-size="41.5" fill="#000">9</text>
<text class="b" transform="translate(883.4,1061.7) scale(1,1.040)" font-size="40.5" fill="#000">8</text>
<text class="b" transform="translate(873.2,1139.5) scale(1,1.040)" font-size="42.6" fill="#000">10</text>
<text class="b" transform="translate(1238.7,801.3) scale(1,1.020)" font-size="33.0" fill="#000">Rutin</text>
<text class="b" transform="translate(1507.2,801.0) scale(1,1.020)" font-size="33.0" fill="#800080">Rutin-Ag</text>
<text class="b" transform="translate(1378.7,849.9) scale(1,1.030)" font-size="32.9" fill="#000">pH 10</text>
<rect x="1225.3" y="811.0" width="110.6" height="116.7" fill="#d2d3d3"/>
<rect x="1225.3" y="927.7" width="110.6" height="85.6" fill="#e8e9e5"/>
<path d="M1240.5,889.8 C1240.5,875.8 1246.6,865.6 1252.6,863.6 L1317.0,863.6 C1323.0,865.6 1326.8,875.8 1326.8,889.8 L1326.8,985.5 Q1326.8,1003.5 1308.8,1003.5 L1258.5,1003.5 Q1240.5,1003.5 1240.5,985.5 Z" fill="url(#liqR)"/>
<rect x="1244.5" y="929.7" width="78.3" height="28.0" fill="#e6e480" opacity="0.28"/>
<path d="M1242.5,970.5 L1324.8,970.5 L1324.8,985.5 Q1324.8,1001.5 1308.8,1001.5 L1258.5,1001.5 Q1242.5,1001.5 1242.5,985.5 Z" fill="#d6d25a" opacity="0.6"/>
<path d="M1243.5,970.5 Q1283.7,968.5 1323.8,970.5" stroke="#a8a224" stroke-width="2" fill="none" opacity="0.8"/>
<rect x="1252.6" y="854.0" width="64.4" height="13.6" fill="url(#liqR)"/>
<rect x="1252.6" y="854.0" width="64.4" height="5.8" fill="#343a30" opacity="0.85"/>
<rect x="1243.0" y="838.9" width="81.8" height="16.1" rx="5" fill="#4a4e3c"/>
<rect x="1245.0" y="843.9" width="77.8" height="1.6" fill="#c8c880" opacity="0.7"/>
<g fill="#fff" opacity="0.8"><ellipse cx="1273.0" cy="848.3" rx="2.2" ry="1.1"/><ellipse cx="1302.3" cy="848.3" rx="3" ry="1"/></g>
<rect x="1242.0" y="820.2" width="83.8" height="22.7" rx="9.0" fill="#343e3e"/>
<ellipse cx="1283.9" cy="825.2" rx="37.9" ry="4.5" fill="#4c5656" opacity="0.75"/>
<ellipse cx="1283.9" cy="823.4" rx="11.7" ry="2.3" fill="#2a3232" opacity="0.6"/>
<g fill="#fff" opacity="0.9"><ellipse cx="1269.0" cy="887.8" rx="2.4" ry="1.1" transform="rotate(35 1269.0 887.8)"/><ellipse cx="1302.6" cy="887.8" rx="3" ry="1.1" transform="rotate(-25 1302.6 887.8)"/><ellipse cx="1312.1" cy="886.8" rx="2" ry="1" transform="rotate(-25 1312.1 886.8)"/></g>
<rect x="1519.3" y="811.0" width="115.4" height="113.7" fill="#d6d7d7"/>
<rect x="1519.3" y="924.7" width="115.4" height="87.1" fill="#eaeae8"/>
<path d="M1534.7,886.0 C1534.7,872.0 1542.0,864.8 1548.0,862.8 L1612.0,862.8 C1618.0,864.8 1623.4,872.0 1623.4,886.0 L1623.4,984.0 Q1623.4,1002.0 1605.4,1002.0 L1552.7,1002.0 Q1534.7,1002.0 1534.7,984.0 Z" fill="url(#liqRA)"/>
<rect x="1538.7" y="926.7" width="80.7" height="26.0" fill="#9a4a26" opacity="0.28"/>
<path d="M1536.7,969.0 L1621.4,969.0 L1621.4,984.0 Q1621.4,1000.0 1605.4,1000.0 L1552.7,1000.0 Q1536.7,1000.0 1536.7,984.0 Z" fill="#843a16" opacity="0.6"/>
<path d="M1537.7,969.0 Q1579.1,967.0 1620.4,969.0" stroke="#4a1806" stroke-width="2" fill="none" opacity="0.8"/>
<rect x="1548.0" y="854.0" width="64.0" height="12.8" fill="url(#liqRA)"/>
<rect x="1548.0" y="854.0" width="64.0" height="5.4" fill="#3c3c34" opacity="0.85"/>
<rect x="1535.7" y="835.1" width="85.1" height="19.9" rx="5" fill="#424848"/>
<rect x="1537.7" y="840.1" width="81.1" height="1.6" fill="#8a8a80" opacity="0.7"/>
<g fill="#fff" opacity="0.8"><ellipse cx="1566.9" cy="846.3" rx="2.2" ry="1.1"/><ellipse cx="1597.4" cy="846.3" rx="3" ry="1"/></g>
<rect x="1534.7" y="817.9" width="87.1" height="21.2" rx="8.9" fill="#52585a"/>
<ellipse cx="1578.2" cy="822.6" rx="39.5" ry="4.2" fill="#5c6264" opacity="0.75"/>
<ellipse cx="1578.2" cy="820.9" rx="12.2" ry="2.1" fill="#464c4e" opacity="0.6"/>
<g fill="#fff" opacity="0.9"><ellipse cx="1564.0" cy="884.0" rx="2.4" ry="1.1" transform="rotate(35 1564.0 884.0)"/><ellipse cx="1598.6" cy="884.0" rx="3" ry="1.1" transform="rotate(-25 1598.6 884.0)"/><ellipse cx="1608.3" cy="883.0" rx="2" ry="1" transform="rotate(-25 1608.3 883.0)"/></g>
<path d="M1358.1,893.1 L1447.6,893.1 L1447.6,867.4 L1498.5,913.0 L1447.6,958.3 L1447.6,932.0 L1358.1,932.0 Z" fill="url(#arr)" stroke="#05057e" stroke-width="3" stroke-linejoin="miter"/>
</svg>
</body></html>
